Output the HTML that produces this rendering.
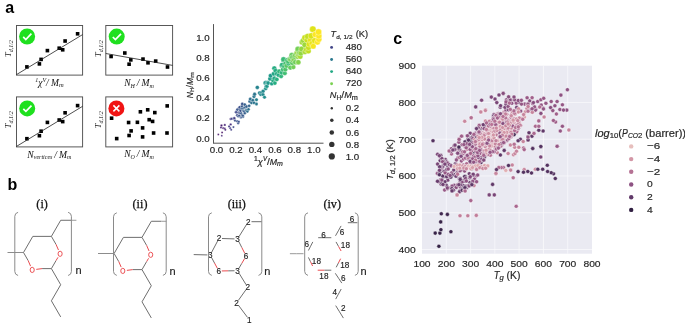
<!DOCTYPE html>
<html><head><meta charset="utf-8"><style>
html,body{margin:0;padding:0;background:#fff;width:685px;height:325px;overflow:hidden}
svg{display:block;will-change:transform}
</style></head><body>
<svg width="685" height="325" viewBox="0 0 685 325">
<text x="5.3" y="13.4" font-family='"Liberation Sans", sans-serif' font-weight="bold" font-size="16">a</text>
<text x="7.6" y="190.3" font-family='"Liberation Sans", sans-serif' font-weight="bold" font-size="16">b</text>
<text x="393.3" y="43.6" font-family='"Liberation Sans", sans-serif' font-weight="bold" font-size="16">c</text>
<rect x="16.5" y="25.5" width="66.1" height="49.6" fill="none" stroke="#505050" stroke-width="0.95"/>
<rect x="105.8" y="25.5" width="66.8" height="49.6" fill="none" stroke="#505050" stroke-width="0.95"/>
<rect x="16.5" y="96.9" width="66.1" height="50.0" fill="none" stroke="#505050" stroke-width="0.95"/>
<rect x="105.8" y="96.9" width="66.8" height="50.0" fill="none" stroke="#505050" stroke-width="0.95"/>
<rect x="25.10" y="65.10" width="3.6" height="3.6" fill="#000"/>
<rect x="37.60" y="62.10" width="3.6" height="3.6" fill="#000"/>
<rect x="39.30" y="57.60" width="3.6" height="3.6" fill="#000"/>
<rect x="45.60" y="48.80" width="3.6" height="3.6" fill="#000"/>
<rect x="57.40" y="46.40" width="3.6" height="3.6" fill="#000"/>
<rect x="60.90" y="48.00" width="3.6" height="3.6" fill="#000"/>
<rect x="63.30" y="39.20" width="3.6" height="3.6" fill="#000"/>
<rect x="75.80" y="32.00" width="3.6" height="3.6" fill="#000"/>
<rect x="109.30" y="54.70" width="3.6" height="3.6" fill="#000"/>
<rect x="123.00" y="51.20" width="3.6" height="3.6" fill="#000"/>
<rect x="129.00" y="58.10" width="3.6" height="3.6" fill="#000"/>
<rect x="127.30" y="62.40" width="3.6" height="3.6" fill="#000"/>
<rect x="141.20" y="57.30" width="3.6" height="3.6" fill="#000"/>
<rect x="146.20" y="61.00" width="3.6" height="3.6" fill="#000"/>
<rect x="153.90" y="59.30" width="3.6" height="3.6" fill="#000"/>
<rect x="165.70" y="65.20" width="3.6" height="3.6" fill="#000"/>
<rect x="25.10" y="136.90" width="3.6" height="3.6" fill="#000"/>
<rect x="37.60" y="133.90" width="3.6" height="3.6" fill="#000"/>
<rect x="39.30" y="129.40" width="3.6" height="3.6" fill="#000"/>
<rect x="45.60" y="120.60" width="3.6" height="3.6" fill="#000"/>
<rect x="57.40" y="118.20" width="3.6" height="3.6" fill="#000"/>
<rect x="60.90" y="119.80" width="3.6" height="3.6" fill="#000"/>
<rect x="63.30" y="111.00" width="3.6" height="3.6" fill="#000"/>
<rect x="75.80" y="103.80" width="3.6" height="3.6" fill="#000"/>
<rect x="109.80" y="116.40" width="3.6" height="3.6" fill="#000"/>
<rect x="114.90" y="136.80" width="3.6" height="3.6" fill="#000"/>
<rect x="126.80" y="120.70" width="3.6" height="3.6" fill="#000"/>
<rect x="129.30" y="129.10" width="3.6" height="3.6" fill="#000"/>
<rect x="127.30" y="133.70" width="3.6" height="3.6" fill="#000"/>
<rect x="135.60" y="120.50" width="3.6" height="3.6" fill="#000"/>
<rect x="138.60" y="110.00" width="3.6" height="3.6" fill="#000"/>
<rect x="140.80" y="126.10" width="3.6" height="3.6" fill="#000"/>
<rect x="140.80" y="135.10" width="3.6" height="3.6" fill="#000"/>
<rect x="145.90" y="108.00" width="3.6" height="3.6" fill="#000"/>
<rect x="147.40" y="117.90" width="3.6" height="3.6" fill="#000"/>
<rect x="150.80" y="119.60" width="3.6" height="3.6" fill="#000"/>
<rect x="153.00" y="110.80" width="3.6" height="3.6" fill="#000"/>
<rect x="151.80" y="131.20" width="3.6" height="3.6" fill="#000"/>
<rect x="165.40" y="104.10" width="3.6" height="3.6" fill="#000"/>
<rect x="165.20" y="131.20" width="3.6" height="3.6" fill="#000"/>
<line x1="16.5" y1="74.6" x2="82.6" y2="34.6" stroke="#222" stroke-width="0.8"/>
<line x1="105.8" y1="53.5" x2="172.6" y2="65.4" stroke="#222" stroke-width="0.8"/>
<line x1="16.5" y1="146.4" x2="82.6" y2="106.3" stroke="#222" stroke-width="0.8"/>
<circle cx="27.1" cy="36.5" r="8" fill="#1fe01f"/>
<path d="M23.20 36.90 L25.80 39.50 L31.40 33.70" fill="none" stroke="#fff" stroke-width="1.7"/>
<circle cx="116.7" cy="36.6" r="8" fill="#1fe01f"/>
<path d="M112.80 37.00 L115.40 39.60 L121.00 33.80" fill="none" stroke="#fff" stroke-width="1.7"/>
<circle cx="27.2" cy="108.4" r="8" fill="#1fe01f"/>
<path d="M23.30 108.80 L25.90 111.40 L31.50 105.60" fill="none" stroke="#fff" stroke-width="1.7"/>
<circle cx="116.4" cy="108.4" r="8" fill="#f01414"/>
<path d="M113.4 105.4 L119.4 111.4 M113.4 111.4 L119.4 105.4" stroke="#fff" stroke-width="1.5"/>
<text transform="translate(11.3,48.6) rotate(-90)" text-anchor="middle" font-family='"Liberation Serif", serif' font-style="italic" font-size="8.5" fill="#111">T<tspan font-size="6.0" dy="1.9">d,1/2</tspan></text>
<text transform="translate(11.3,119.7) rotate(-90)" text-anchor="middle" font-family='"Liberation Serif", serif' font-style="italic" font-size="8.5" fill="#111">T<tspan font-size="6.0" dy="1.9">d,1/2</tspan></text>
<text transform="translate(100.6,48.6) rotate(-90)" text-anchor="middle" font-family='"Liberation Serif", serif' font-style="italic" font-size="8.5" fill="#111">T<tspan font-size="6.0" dy="1.9">d,1/2</tspan></text>
<text transform="translate(100.6,119.7) rotate(-90)" text-anchor="middle" font-family='"Liberation Serif", serif' font-style="italic" font-size="8.5" fill="#111">T<tspan font-size="6.0" dy="1.9">d,1/2</tspan></text>
<text x="49.5" y="85.6" text-anchor="middle" font-family='"Liberation Serif", serif' font-style="italic" font-size="9.5" fill="#111"><tspan font-size="6" dy="-3.5">1</tspan><tspan dy="3.5">χ</tspan><tspan font-size="6" dy="-3.5">V</tspan><tspan dy="3.5">/ M</tspan><tspan font-size="6.5" dy="1.8">m</tspan></text>
<text x="139" y="85.9" text-anchor="middle" font-family='"Liberation Serif", serif' font-style="italic" font-size="9.6" fill="#111">N<tspan font-size="6" dy="1.8">H</tspan><tspan dy="-1.8"> / M</tspan><tspan font-size="6" dy="1.8">m</tspan></text>
<text x="49.3" y="157.5" text-anchor="middle" font-family='"Liberation Serif", serif' font-style="italic" font-size="9.6" fill="#111">N<tspan font-size="6" dy="1.8">vertices</tspan><tspan dy="-1.8"> / M</tspan><tspan font-size="6" dy="1.8">m</tspan></text>
<text x="139" y="157.1" text-anchor="middle" font-family='"Liberation Serif", serif' font-style="italic" font-size="9.6" fill="#111">N<tspan font-size="6" dy="1.8">O</tspan><tspan dy="-1.8"> / M</tspan><tspan font-size="6" dy="1.8">m</tspan></text>
<line x1="213.5" y1="24.1" x2="213.5" y2="143.2" stroke="#555" stroke-width="1"/>
<line x1="213" y1="143.2" x2="323.5" y2="143.2" stroke="#555" stroke-width="1"/>
<text transform="translate(209.70,141.65)" font-family='"Liberation Sans", sans-serif' fill="#262626" stroke="#262626" stroke-width="0.18"><tspan x="-13.52" y="0.00" font-size="9.01" textLength="13.52" lengthAdjust="spacingAndGlyphs">0.0</tspan></text>
<text transform="translate(216.50,153.30)" font-family='"Liberation Sans", sans-serif' fill="#262626" stroke="#262626" stroke-width="0.18"><tspan x="-6.76" y="0.00" font-size="9.01" textLength="13.52" lengthAdjust="spacingAndGlyphs">0.0</tspan></text>
<text transform="translate(209.70,121.49)" font-family='"Liberation Sans", sans-serif' fill="#262626" stroke="#262626" stroke-width="0.18"><tspan x="-13.52" y="0.00" font-size="9.01" textLength="13.52" lengthAdjust="spacingAndGlyphs">0.2</tspan></text>
<text transform="translate(235.96,153.30)" font-family='"Liberation Sans", sans-serif' fill="#262626" stroke="#262626" stroke-width="0.18"><tspan x="-6.76" y="0.00" font-size="9.01" textLength="13.52" lengthAdjust="spacingAndGlyphs">0.2</tspan></text>
<text transform="translate(209.70,101.33)" font-family='"Liberation Sans", sans-serif' fill="#262626" stroke="#262626" stroke-width="0.18"><tspan x="-13.52" y="0.00" font-size="9.01" textLength="13.52" lengthAdjust="spacingAndGlyphs">0.4</tspan></text>
<text transform="translate(255.42,153.30)" font-family='"Liberation Sans", sans-serif' fill="#262626" stroke="#262626" stroke-width="0.18"><tspan x="-6.76" y="0.00" font-size="9.01" textLength="13.52" lengthAdjust="spacingAndGlyphs">0.4</tspan></text>
<text transform="translate(209.70,81.17)" font-family='"Liberation Sans", sans-serif' fill="#262626" stroke="#262626" stroke-width="0.18"><tspan x="-13.52" y="0.00" font-size="9.01" textLength="13.52" lengthAdjust="spacingAndGlyphs">0.6</tspan></text>
<text transform="translate(274.88,153.30)" font-family='"Liberation Sans", sans-serif' fill="#262626" stroke="#262626" stroke-width="0.18"><tspan x="-6.76" y="0.00" font-size="9.01" textLength="13.52" lengthAdjust="spacingAndGlyphs">0.6</tspan></text>
<text transform="translate(209.70,61.01)" font-family='"Liberation Sans", sans-serif' fill="#262626" stroke="#262626" stroke-width="0.18"><tspan x="-13.52" y="0.00" font-size="9.01" textLength="13.52" lengthAdjust="spacingAndGlyphs">0.8</tspan></text>
<text transform="translate(294.34,153.30)" font-family='"Liberation Sans", sans-serif' fill="#262626" stroke="#262626" stroke-width="0.18"><tspan x="-6.76" y="0.00" font-size="9.01" textLength="13.52" lengthAdjust="spacingAndGlyphs">0.8</tspan></text>
<text transform="translate(209.70,40.85)" font-family='"Liberation Sans", sans-serif' fill="#262626" stroke="#262626" stroke-width="0.18"><tspan x="-13.52" y="0.00" font-size="9.01" textLength="13.52" lengthAdjust="spacingAndGlyphs">1.0</tspan></text>
<text transform="translate(313.80,153.30)" font-family='"Liberation Sans", sans-serif' fill="#262626" stroke="#262626" stroke-width="0.18"><tspan x="-6.76" y="0.00" font-size="9.01" textLength="13.52" lengthAdjust="spacingAndGlyphs">1.0</tspan></text>
<text transform="translate(193.10,85.20) rotate(-90)" font-family='"Liberation Sans", sans-serif' fill="#262626" stroke="#262626" stroke-width="0.18"><tspan x="-12.94" y="0.00" font-size="8.69" font-style="italic" textLength="6.13" lengthAdjust="spacingAndGlyphs">N</tspan><tspan x="-6.81" y="1.30" font-size="6.08" textLength="4.32" lengthAdjust="spacingAndGlyphs">H</tspan><tspan x="-2.49" y="0.00" font-size="8.69" textLength="2.76" lengthAdjust="spacingAndGlyphs">/</tspan><tspan x="0.27" y="0.00" font-size="8.69" font-style="italic" textLength="7.08" lengthAdjust="spacingAndGlyphs">M</tspan><tspan x="7.35" y="1.30" font-size="6.08" textLength="5.59" lengthAdjust="spacingAndGlyphs">m</tspan></text>
<text transform="translate(268.50,164.80)" font-family='"Liberation Sans", sans-serif' fill="#262626" stroke="#262626" stroke-width="0.18"><tspan x="-14.44" y="-3.60" font-size="6.31" textLength="3.79" lengthAdjust="spacingAndGlyphs">1</tspan><tspan x="-10.65" y="0.00" font-size="9.01" font-style="italic" textLength="5.03" lengthAdjust="spacingAndGlyphs">χ</tspan><tspan x="-5.62" y="-3.60" font-size="6.31" font-style="italic" textLength="4.07" lengthAdjust="spacingAndGlyphs">V</tspan><tspan x="-1.55" y="0.00" font-size="9.01" textLength="2.86" lengthAdjust="spacingAndGlyphs">/</tspan><tspan x="1.31" y="0.00" font-size="9.01" font-style="italic" textLength="7.33" lengthAdjust="spacingAndGlyphs">M</tspan><tspan x="8.64" y="1.30" font-size="6.31" font-style="italic" textLength="5.80" lengthAdjust="spacingAndGlyphs">m</tspan></text>
<circle cx="218.30" cy="134.60" r="0.98" fill="#481668" stroke="#fff" stroke-width="0.35"/>
<circle cx="221.80" cy="135.70" r="0.96" fill="#482878" stroke="#fff" stroke-width="0.35"/>
<circle cx="222.10" cy="132.50" r="1.03" fill="#471365" stroke="#fff" stroke-width="0.35"/>
<circle cx="221.00" cy="127.60" r="1.13" fill="#482677" stroke="#fff" stroke-width="0.35"/>
<circle cx="221.50" cy="125.50" r="1.18" fill="#481c6e" stroke="#fff" stroke-width="0.35"/>
<circle cx="223.20" cy="128.20" r="1.12" fill="#481d6f" stroke="#fff" stroke-width="0.35"/>
<circle cx="224.80" cy="128.70" r="1.11" fill="#482374" stroke="#fff" stroke-width="0.35"/>
<circle cx="225.30" cy="129.80" r="1.09" fill="#482374" stroke="#fff" stroke-width="0.35"/>
<circle cx="224.80" cy="124.90" r="1.19" fill="#482677" stroke="#fff" stroke-width="0.35"/>
<circle cx="229.10" cy="126.50" r="1.16" fill="#443a83" stroke="#fff" stroke-width="0.35"/>
<circle cx="230.20" cy="128.20" r="1.12" fill="#443b84" stroke="#fff" stroke-width="0.35"/>
<circle cx="231.20" cy="129.80" r="1.09" fill="#423f85" stroke="#fff" stroke-width="0.35"/>
<circle cx="230.70" cy="124.40" r="1.20" fill="#472f7d" stroke="#fff" stroke-width="0.35"/>
<circle cx="230.70" cy="119.00" r="1.32" fill="#46307e" stroke="#fff" stroke-width="0.35"/>
<circle cx="233.40" cy="127.10" r="1.14" fill="#3e4a89" stroke="#fff" stroke-width="0.35"/>
<circle cx="231.80" cy="118.80" r="1.32" fill="#414287" stroke="#fff" stroke-width="0.35"/>
<circle cx="233.90" cy="118.50" r="1.33" fill="#3c508b" stroke="#fff" stroke-width="0.35"/>
<circle cx="235.00" cy="120.60" r="1.28" fill="#3d4e8a" stroke="#fff" stroke-width="0.35"/>
<circle cx="234.30" cy="118.20" r="1.33" fill="#433e85" stroke="#fff" stroke-width="0.35"/>
<circle cx="237.20" cy="121.20" r="1.27" fill="#3a538b" stroke="#fff" stroke-width="0.35"/>
<circle cx="238.20" cy="123.30" r="1.22" fill="#3a538b" stroke="#fff" stroke-width="0.35"/>
<circle cx="238.80" cy="121.70" r="1.26" fill="#3b528b" stroke="#fff" stroke-width="0.35"/>
<circle cx="236.10" cy="112.00" r="1.47" fill="#404588" stroke="#fff" stroke-width="0.35"/>
<circle cx="236.20" cy="112.20" r="1.46" fill="#3e4989" stroke="#fff" stroke-width="0.35"/>
<circle cx="237.20" cy="115.20" r="1.40" fill="#3e4c8a" stroke="#fff" stroke-width="0.35"/>
<circle cx="238.20" cy="116.30" r="1.37" fill="#3a548c" stroke="#fff" stroke-width="0.35"/>
<circle cx="239.20" cy="115.70" r="1.39" fill="#3a538b" stroke="#fff" stroke-width="0.35"/>
<circle cx="237.40" cy="109.50" r="1.52" fill="#39568c" stroke="#fff" stroke-width="0.35"/>
<circle cx="238.60" cy="112.60" r="1.45" fill="#3e4c8a" stroke="#fff" stroke-width="0.35"/>
<circle cx="240.90" cy="117.40" r="1.35" fill="#375a8c" stroke="#fff" stroke-width="0.35"/>
<circle cx="239.80" cy="113.10" r="1.44" fill="#39568c" stroke="#fff" stroke-width="0.35"/>
<circle cx="241.70" cy="116.90" r="1.36" fill="#3a548c" stroke="#fff" stroke-width="0.35"/>
<circle cx="239.20" cy="107.70" r="1.56" fill="#3e4c8a" stroke="#fff" stroke-width="0.35"/>
<circle cx="239.80" cy="109.30" r="1.52" fill="#375a8c" stroke="#fff" stroke-width="0.35"/>
<circle cx="241.10" cy="113.20" r="1.44" fill="#375a8c" stroke="#fff" stroke-width="0.35"/>
<circle cx="240.50" cy="110.80" r="1.49" fill="#3a548c" stroke="#fff" stroke-width="0.35"/>
<circle cx="242.00" cy="115.20" r="1.40" fill="#365c8d" stroke="#fff" stroke-width="0.35"/>
<circle cx="239.80" cy="107.20" r="1.57" fill="#3c508b" stroke="#fff" stroke-width="0.35"/>
<circle cx="243.10" cy="116.80" r="1.36" fill="#355e8d" stroke="#fff" stroke-width="0.35"/>
<circle cx="242.90" cy="115.70" r="1.39" fill="#38598c" stroke="#fff" stroke-width="0.35"/>
<circle cx="241.70" cy="108.30" r="1.54" fill="#375a8c" stroke="#fff" stroke-width="0.35"/>
<circle cx="242.50" cy="108.20" r="1.55" fill="#34608d" stroke="#fff" stroke-width="0.35"/>
<circle cx="242.00" cy="106.10" r="1.59" fill="#38588c" stroke="#fff" stroke-width="0.35"/>
<circle cx="243.50" cy="110.80" r="1.49" fill="#33628d" stroke="#fff" stroke-width="0.35"/>
<circle cx="244.20" cy="111.50" r="1.48" fill="#375a8c" stroke="#fff" stroke-width="0.35"/>
<circle cx="244.80" cy="113.20" r="1.44" fill="#355f8d" stroke="#fff" stroke-width="0.35"/>
<circle cx="242.30" cy="104.00" r="1.64" fill="#3a538b" stroke="#fff" stroke-width="0.35"/>
<circle cx="244.20" cy="107.70" r="1.56" fill="#355f8d" stroke="#fff" stroke-width="0.35"/>
<circle cx="245.20" cy="107.20" r="1.57" fill="#33628d" stroke="#fff" stroke-width="0.35"/>
<circle cx="246.30" cy="109.80" r="1.51" fill="#32648e" stroke="#fff" stroke-width="0.35"/>
<circle cx="244.80" cy="104.60" r="1.62" fill="#34608d" stroke="#fff" stroke-width="0.35"/>
<circle cx="246.60" cy="110.50" r="1.50" fill="#2f6c8e" stroke="#fff" stroke-width="0.35"/>
<circle cx="247.40" cy="111.50" r="1.48" fill="#2e6f8e" stroke="#fff" stroke-width="0.35"/>
<circle cx="246.60" cy="106.50" r="1.58" fill="#355f8d" stroke="#fff" stroke-width="0.35"/>
<circle cx="248.50" cy="109.30" r="1.52" fill="#2d708e" stroke="#fff" stroke-width="0.35"/>
<circle cx="249.10" cy="105.80" r="1.60" fill="#33638d" stroke="#fff" stroke-width="0.35"/>
<circle cx="249.70" cy="101.50" r="1.69" fill="#30698e" stroke="#fff" stroke-width="0.35"/>
<circle cx="250.30" cy="99.10" r="1.74" fill="#2e6e8e" stroke="#fff" stroke-width="0.35"/>
<circle cx="251.50" cy="102.80" r="1.66" fill="#2c718e" stroke="#fff" stroke-width="0.35"/>
<circle cx="252.80" cy="100.30" r="1.71" fill="#2d708e" stroke="#fff" stroke-width="0.35"/>
<circle cx="254.00" cy="102.80" r="1.66" fill="#2c738e" stroke="#fff" stroke-width="0.35"/>
<circle cx="254.00" cy="96.60" r="1.79" fill="#2a778e" stroke="#fff" stroke-width="0.35"/>
<circle cx="256.50" cy="104.00" r="1.64" fill="#297a8e" stroke="#fff" stroke-width="0.35"/>
<circle cx="254.60" cy="94.20" r="1.84" fill="#2b758e" stroke="#fff" stroke-width="0.35"/>
<circle cx="256.50" cy="99.70" r="1.73" fill="#26818e" stroke="#fff" stroke-width="0.35"/>
<circle cx="257.30" cy="87.40" r="1.99" fill="#25838e" stroke="#fff" stroke-width="0.35"/>
<circle cx="259.50" cy="92.90" r="1.87" fill="#25838e" stroke="#fff" stroke-width="0.35"/>
<circle cx="260.80" cy="94.50" r="1.84" fill="#24878e" stroke="#fff" stroke-width="0.35"/>
<circle cx="261.80" cy="92.30" r="1.89" fill="#23898e" stroke="#fff" stroke-width="0.35"/>
<circle cx="263.00" cy="94.50" r="1.84" fill="#238a8d" stroke="#fff" stroke-width="0.35"/>
<circle cx="264.50" cy="97.20" r="1.78" fill="#218e8d" stroke="#fff" stroke-width="0.35"/>
<circle cx="263.20" cy="91.10" r="1.91" fill="#23888e" stroke="#fff" stroke-width="0.35"/>
<circle cx="265.70" cy="88.60" r="1.96" fill="#1f958b" stroke="#fff" stroke-width="0.35"/>
<circle cx="265.10" cy="83.10" r="2.08" fill="#21918c" stroke="#fff" stroke-width="0.35"/>
<circle cx="266.30" cy="86.20" r="2.02" fill="#20938c" stroke="#fff" stroke-width="0.35"/>
<circle cx="265.70" cy="82.50" r="2.09" fill="#20938c" stroke="#fff" stroke-width="0.35"/>
<circle cx="266.90" cy="86.20" r="2.02" fill="#1f988b" stroke="#fff" stroke-width="0.35"/>
<circle cx="267.50" cy="82.50" r="2.09" fill="#1f9e89" stroke="#fff" stroke-width="0.35"/>
<circle cx="268.20" cy="83.10" r="2.08" fill="#1f978b" stroke="#fff" stroke-width="0.35"/>
<circle cx="270.00" cy="78.80" r="2.17" fill="#1e9b8a" stroke="#fff" stroke-width="0.35"/>
<circle cx="271.80" cy="83.70" r="2.07" fill="#1fa187" stroke="#fff" stroke-width="0.35"/>
<circle cx="270.60" cy="75.70" r="2.24" fill="#1f9a8a" stroke="#fff" stroke-width="0.35"/>
<circle cx="273.10" cy="80.60" r="2.13" fill="#24aa83" stroke="#fff" stroke-width="0.35"/>
<circle cx="274.90" cy="83.10" r="2.08" fill="#26ad81" stroke="#fff" stroke-width="0.35"/>
<circle cx="274.30" cy="78.20" r="2.19" fill="#24aa83" stroke="#fff" stroke-width="0.35"/>
<circle cx="273.70" cy="73.80" r="2.28" fill="#21a585" stroke="#fff" stroke-width="0.35"/>
<circle cx="276.80" cy="79.40" r="2.16" fill="#2ab07f" stroke="#fff" stroke-width="0.35"/>
<circle cx="274.30" cy="68.30" r="2.40" fill="#25ac82" stroke="#fff" stroke-width="0.35"/>
<circle cx="275.50" cy="70.80" r="2.34" fill="#25ac82" stroke="#fff" stroke-width="0.35"/>
<circle cx="276.80" cy="73.80" r="2.28" fill="#25ab82" stroke="#fff" stroke-width="0.35"/>
<circle cx="278.60" cy="75.10" r="2.25" fill="#23a983" stroke="#fff" stroke-width="0.35"/>
<circle cx="279.20" cy="71.40" r="2.33" fill="#34b679" stroke="#fff" stroke-width="0.35"/>
<circle cx="281.10" cy="76.30" r="2.23" fill="#31b57b" stroke="#fff" stroke-width="0.35"/>
<circle cx="281.70" cy="72.60" r="2.31" fill="#2fb47c" stroke="#fff" stroke-width="0.35"/>
<circle cx="281.70" cy="65.80" r="2.45" fill="#3dbc74" stroke="#fff" stroke-width="0.35"/>
<circle cx="282.90" cy="69.50" r="2.37" fill="#3dbc74" stroke="#fff" stroke-width="0.35"/>
<circle cx="282.10" cy="64.90" r="2.47" fill="#2db27d" stroke="#fff" stroke-width="0.35"/>
<circle cx="284.80" cy="73.20" r="2.29" fill="#40bd72" stroke="#fff" stroke-width="0.35"/>
<circle cx="284.20" cy="66.50" r="2.44" fill="#3dbc74" stroke="#fff" stroke-width="0.35"/>
<circle cx="285.40" cy="69.50" r="2.37" fill="#4ec36b" stroke="#fff" stroke-width="0.35"/>
<circle cx="283.50" cy="59.70" r="2.58" fill="#2eb37c" stroke="#fff" stroke-width="0.35"/>
<circle cx="283.50" cy="59.40" r="2.59" fill="#3aba76" stroke="#fff" stroke-width="0.35"/>
<circle cx="285.50" cy="63.60" r="2.50" fill="#44bf70" stroke="#fff" stroke-width="0.35"/>
<circle cx="286.60" cy="65.80" r="2.45" fill="#5ac864" stroke="#fff" stroke-width="0.35"/>
<circle cx="287.20" cy="60.30" r="2.57" fill="#42be71" stroke="#fff" stroke-width="0.35"/>
<circle cx="288.50" cy="63.40" r="2.50" fill="#38b977" stroke="#fff" stroke-width="0.35"/>
<circle cx="288.30" cy="61.50" r="2.54" fill="#46c06f" stroke="#fff" stroke-width="0.35"/>
<circle cx="290.30" cy="67.70" r="2.41" fill="#60ca60" stroke="#fff" stroke-width="0.35"/>
<circle cx="289.70" cy="59.10" r="2.59" fill="#63cb5f" stroke="#fff" stroke-width="0.35"/>
<circle cx="290.40" cy="59.40" r="2.59" fill="#73d056" stroke="#fff" stroke-width="0.35"/>
<circle cx="293.40" cy="67.10" r="2.42" fill="#73d056" stroke="#fff" stroke-width="0.35"/>
<circle cx="292.20" cy="62.80" r="2.51" fill="#5ec962" stroke="#fff" stroke-width="0.35"/>
<circle cx="291.50" cy="56.60" r="2.65" fill="#6ece58" stroke="#fff" stroke-width="0.35"/>
<circle cx="292.80" cy="60.30" r="2.57" fill="#6ccd5a" stroke="#fff" stroke-width="0.35"/>
<circle cx="291.80" cy="55.20" r="2.68" fill="#63cb5f" stroke="#fff" stroke-width="0.35"/>
<circle cx="292.50" cy="57.30" r="2.63" fill="#69cd5b" stroke="#fff" stroke-width="0.35"/>
<circle cx="293.90" cy="59.40" r="2.59" fill="#81d34d" stroke="#fff" stroke-width="0.35"/>
<circle cx="295.20" cy="62.20" r="2.53" fill="#6ece58" stroke="#fff" stroke-width="0.35"/>
<circle cx="294.60" cy="56.60" r="2.65" fill="#69cd5b" stroke="#fff" stroke-width="0.35"/>
<circle cx="295.20" cy="55.20" r="2.68" fill="#7ad151" stroke="#fff" stroke-width="0.35"/>
<circle cx="298.00" cy="62.20" r="2.53" fill="#8bd646" stroke="#fff" stroke-width="0.35"/>
<circle cx="298.30" cy="62.20" r="2.53" fill="#81d34d" stroke="#fff" stroke-width="0.35"/>
<circle cx="296.50" cy="53.50" r="2.71" fill="#77d153" stroke="#fff" stroke-width="0.35"/>
<circle cx="297.70" cy="56.60" r="2.65" fill="#8ed645" stroke="#fff" stroke-width="0.35"/>
<circle cx="297.30" cy="52.50" r="2.73" fill="#98d83e" stroke="#fff" stroke-width="0.35"/>
<circle cx="298.70" cy="55.20" r="2.68" fill="#98d83e" stroke="#fff" stroke-width="0.35"/>
<circle cx="297.70" cy="49.80" r="2.79" fill="#93d741" stroke="#fff" stroke-width="0.35"/>
<circle cx="300.20" cy="56.60" r="2.65" fill="#aadc32" stroke="#fff" stroke-width="0.35"/>
<circle cx="298.00" cy="49.00" r="2.81" fill="#73d056" stroke="#fff" stroke-width="0.35"/>
<circle cx="299.50" cy="52.90" r="2.73" fill="#81d34d" stroke="#fff" stroke-width="0.35"/>
<circle cx="300.80" cy="53.20" r="2.72" fill="#93d741" stroke="#fff" stroke-width="0.35"/>
<circle cx="301.50" cy="49.00" r="2.81" fill="#93d741" stroke="#fff" stroke-width="0.35"/>
<circle cx="304.90" cy="51.80" r="2.75" fill="#aadc32" stroke="#fff" stroke-width="0.35"/>
<circle cx="302.20" cy="42.10" r="2.96" fill="#a8db34" stroke="#fff" stroke-width="0.35"/>
<circle cx="303.50" cy="40.70" r="2.99" fill="#9dd93b" stroke="#fff" stroke-width="0.35"/>
<circle cx="306.30" cy="49.70" r="2.79" fill="#bade28" stroke="#fff" stroke-width="0.35"/>
<circle cx="304.90" cy="44.90" r="2.90" fill="#9dd93b" stroke="#fff" stroke-width="0.35"/>
<circle cx="308.40" cy="51.10" r="2.76" fill="#c2df23" stroke="#fff" stroke-width="0.35"/>
<circle cx="304.90" cy="37.90" r="3.05" fill="#cae11f" stroke="#fff" stroke-width="0.35"/>
<circle cx="308.40" cy="47.60" r="2.84" fill="#c8e020" stroke="#fff" stroke-width="0.35"/>
<circle cx="307.00" cy="40.00" r="3.00" fill="#cae11f" stroke="#fff" stroke-width="0.35"/>
<circle cx="309.10" cy="44.20" r="2.91" fill="#dde318" stroke="#fff" stroke-width="0.35"/>
<circle cx="307.70" cy="36.50" r="3.08" fill="#c5e021" stroke="#fff" stroke-width="0.35"/>
<circle cx="310.50" cy="40.00" r="3.00" fill="#e5e419" stroke="#fff" stroke-width="0.35"/>
<circle cx="311.90" cy="43.50" r="2.93" fill="#eae51a" stroke="#fff" stroke-width="0.35"/>
<circle cx="313.20" cy="46.20" r="2.87" fill="#f6e620" stroke="#fff" stroke-width="0.35"/>
<circle cx="311.20" cy="35.90" r="3.09" fill="#dae319" stroke="#fff" stroke-width="0.35"/>
<circle cx="314.60" cy="40.70" r="2.99" fill="#e5e419" stroke="#fff" stroke-width="0.35"/>
<circle cx="312.80" cy="29.20" r="3.23" fill="#dfe318" stroke="#fff" stroke-width="0.35"/>
<circle cx="317.40" cy="42.10" r="2.96" fill="#fde725" stroke="#fff" stroke-width="0.35"/>
<circle cx="315.30" cy="34.50" r="3.12" fill="#fde725" stroke="#fff" stroke-width="0.35"/>
<circle cx="318.80" cy="39.30" r="3.02" fill="#fde725" stroke="#fff" stroke-width="0.35"/>
<circle cx="318.80" cy="35.90" r="3.09" fill="#fde725" stroke="#fff" stroke-width="0.35"/>
<circle cx="318.50" cy="32.00" r="3.17" fill="#fde725" stroke="#fff" stroke-width="0.35"/>
<text transform="translate(330.40,37.00)" font-family='"Liberation Sans", sans-serif' fill="#262626" stroke="#262626" stroke-width="0.18"><tspan x="0.00" y="0.00" font-size="9.54" font-style="italic" textLength="5.50" lengthAdjust="spacingAndGlyphs">T</tspan><tspan x="5.80" y="1.80" font-size="5.98" textLength="5.38" lengthAdjust="spacingAndGlyphs">d,</tspan><tspan x="13.07" y="1.80" font-size="5.98" textLength="9.08" lengthAdjust="spacingAndGlyphs">1/2</tspan><tspan x="22.76" y="0.00" font-size="9.06" textLength="15.00" lengthAdjust="spacingAndGlyphs">&#160;(K)</tspan></text>
<circle cx="331.6" cy="47.4" r="1.45" fill="#414487"/>
<text transform="translate(345.70,50.05)" font-family='"Liberation Sans", sans-serif' fill="#262626" stroke="#262626" stroke-width="0.18"><tspan x="0.00" y="0.00" font-size="9.01" textLength="16.22" lengthAdjust="spacingAndGlyphs">480</tspan></text>
<circle cx="331.6" cy="59.5" r="1.45" fill="#2a788e"/>
<text transform="translate(345.70,62.15)" font-family='"Liberation Sans", sans-serif' fill="#262626" stroke="#262626" stroke-width="0.18"><tspan x="0.00" y="0.00" font-size="9.01" textLength="16.22" lengthAdjust="spacingAndGlyphs">560</tspan></text>
<circle cx="331.6" cy="71.6" r="1.45" fill="#22a884"/>
<text transform="translate(345.70,74.25)" font-family='"Liberation Sans", sans-serif' fill="#262626" stroke="#262626" stroke-width="0.18"><tspan x="0.00" y="0.00" font-size="9.01" textLength="16.22" lengthAdjust="spacingAndGlyphs">640</tspan></text>
<circle cx="331.6" cy="83.7" r="1.45" fill="#7ad151"/>
<text transform="translate(345.70,86.35)" font-family='"Liberation Sans", sans-serif' fill="#262626" stroke="#262626" stroke-width="0.18"><tspan x="0.00" y="0.00" font-size="9.01" textLength="16.22" lengthAdjust="spacingAndGlyphs">720</tspan></text>
<text transform="translate(329.80,98.20)" font-family='"Liberation Sans", sans-serif' fill="#262626" stroke="#262626" stroke-width="0.18"><tspan x="0.00" y="0.00" font-size="9.43" font-style="italic" textLength="6.66" lengthAdjust="spacingAndGlyphs">N</tspan><tspan x="6.66" y="1.30" font-size="6.60" textLength="4.68" lengthAdjust="spacingAndGlyphs">H</tspan><tspan x="11.34" y="0.00" font-size="9.43" textLength="3.00" lengthAdjust="spacingAndGlyphs">/</tspan><tspan x="14.34" y="0.00" font-size="9.43" font-style="italic" textLength="7.68" lengthAdjust="spacingAndGlyphs">M</tspan><tspan x="22.02" y="1.30" font-size="6.60" textLength="6.07" lengthAdjust="spacingAndGlyphs">m</tspan></text>
<circle cx="331.8" cy="108.3" r="1.2" fill="#333"/>
<text transform="translate(345.70,111.45)" font-family='"Liberation Sans", sans-serif' fill="#262626" stroke="#262626" stroke-width="0.18"><tspan x="0.00" y="0.00" font-size="9.01" textLength="13.52" lengthAdjust="spacingAndGlyphs">0.2</tspan></text>
<circle cx="331.8" cy="120.3" r="1.75" fill="#333"/>
<text transform="translate(345.70,123.48)" font-family='"Liberation Sans", sans-serif' fill="#262626" stroke="#262626" stroke-width="0.18"><tspan x="0.00" y="0.00" font-size="9.01" textLength="13.52" lengthAdjust="spacingAndGlyphs">0.4</tspan></text>
<circle cx="331.8" cy="132.4" r="2.25" fill="#333"/>
<text transform="translate(345.70,135.51)" font-family='"Liberation Sans", sans-serif' fill="#262626" stroke="#262626" stroke-width="0.18"><tspan x="0.00" y="0.00" font-size="9.01" textLength="13.52" lengthAdjust="spacingAndGlyphs">0.6</tspan></text>
<circle cx="331.8" cy="144.4" r="2.7" fill="#333"/>
<text transform="translate(345.70,147.54)" font-family='"Liberation Sans", sans-serif' fill="#262626" stroke="#262626" stroke-width="0.18"><tspan x="0.00" y="0.00" font-size="9.01" textLength="13.52" lengthAdjust="spacingAndGlyphs">0.8</tspan></text>
<circle cx="331.8" cy="156.4" r="3.1" fill="#333"/>
<text transform="translate(345.70,159.57)" font-family='"Liberation Sans", sans-serif' fill="#262626" stroke="#262626" stroke-width="0.18"><tspan x="0.00" y="0.00" font-size="9.01" textLength="13.52" lengthAdjust="spacingAndGlyphs">1.0</tspan></text>
<text x="42.1" y="207.6" text-anchor="middle" font-family='"Liberation Serif", serif' font-size="12.2" fill="#111" stroke="#111" stroke-width="0.25">(i)</text>
<line x1="7.50" y1="252.50" x2="23.50" y2="252.50" stroke="#8c8c8c" stroke-width="1.0" stroke-linecap="butt"/>
<line x1="23.50" y1="252.50" x2="32.80" y2="236.39" stroke="#6e6e6e" stroke-width="1.0" stroke-linecap="butt"/>
<line x1="32.80" y1="236.39" x2="51.40" y2="236.39" stroke="#6e6e6e" stroke-width="1.0" stroke-linecap="butt"/>
<line x1="51.40" y1="236.39" x2="60.70" y2="220.28" stroke="#6e6e6e" stroke-width="1.0" stroke-linecap="butt"/>
<line x1="60.70" y1="220.28" x2="71.40" y2="220.28" stroke="#6e6e6e" stroke-width="1.0" stroke-linecap="butt"/>
<line x1="71.40" y1="220.28" x2="76.40" y2="220.28" stroke="#9a9a9a" stroke-width="1.0" stroke-linecap="butt"/>
<line x1="51.40" y1="268.61" x2="60.70" y2="284.72" stroke="#6e6e6e" stroke-width="1.0" stroke-linecap="butt"/>
<line x1="60.70" y1="284.72" x2="51.40" y2="300.82" stroke="#6e6e6e" stroke-width="1.0" stroke-linecap="butt"/>
<line x1="51.40" y1="300.82" x2="60.70" y2="316.93" stroke="#6e6e6e" stroke-width="1.0" stroke-linecap="butt"/>
<line x1="51.40" y1="236.39" x2="56.05" y2="244.45" stroke="#6e6e6e" stroke-width="1.0" stroke-linecap="butt"/>
<line x1="56.05" y1="244.45" x2="58.47" y2="250.04" stroke="#ea4a4e" stroke-width="1.0" stroke-linecap="butt"/>
<line x1="51.40" y1="268.61" x2="56.05" y2="260.55" stroke="#6e6e6e" stroke-width="1.0" stroke-linecap="butt"/>
<line x1="56.05" y1="260.55" x2="57.99" y2="257.32" stroke="#ea4a4e" stroke-width="1.0" stroke-linecap="butt"/>
<line x1="51.40" y1="268.61" x2="42.10" y2="268.61" stroke="#6e6e6e" stroke-width="1.0" stroke-linecap="butt"/>
<line x1="42.10" y1="268.61" x2="36.27" y2="269.37" stroke="#ea4a4e" stroke-width="1.0" stroke-linecap="butt"/>
<line x1="23.50" y1="252.50" x2="28.15" y2="260.55" stroke="#6e6e6e" stroke-width="1.0" stroke-linecap="butt"/>
<line x1="28.15" y1="260.55" x2="30.57" y2="266.15" stroke="#ea4a4e" stroke-width="1.0" stroke-linecap="butt"/>
<ellipse cx="60.10" cy="253.80" rx="2.05" ry="2.6" fill="none" stroke="#ea4a4e" stroke-width="0.95"/>
<ellipse cx="32.20" cy="269.91" rx="2.05" ry="2.6" fill="none" stroke="#ea4a4e" stroke-width="0.95"/>
<path d="M18.1 212.3 Q14.8 213.1 14.8 216.3 L14.8 271.5 Q14.8 274.7 18.1 275.5" fill="none" stroke="#8a8a8a" stroke-width="1"/>
<path d="M68.1 212.3 Q71.4 213.1 71.4 216.3 L71.4 271.5 Q71.4 274.7 68.1 275.5" fill="none" stroke="#8a8a8a" stroke-width="1"/>
<text x="75.6" y="273.9" font-family='"Liberation Sans", sans-serif' font-size="11" fill="#222" stroke="#222" stroke-width="0.15">n</text>
<text x="140" y="207.6" text-anchor="middle" font-family='"Liberation Serif", serif' font-size="12.2" fill="#111" stroke="#111" stroke-width="0.25">(ii)</text>
<line x1="98.00" y1="253.50" x2="114.10" y2="253.50" stroke="#8c8c8c" stroke-width="1.0" stroke-linecap="butt"/>
<line x1="114.10" y1="253.50" x2="123.40" y2="237.39" stroke="#6e6e6e" stroke-width="1.0" stroke-linecap="butt"/>
<line x1="123.40" y1="237.39" x2="142.00" y2="237.39" stroke="#6e6e6e" stroke-width="1.0" stroke-linecap="butt"/>
<line x1="142.00" y1="237.39" x2="151.30" y2="221.28" stroke="#6e6e6e" stroke-width="1.0" stroke-linecap="butt"/>
<line x1="151.30" y1="221.28" x2="161.40" y2="221.28" stroke="#6e6e6e" stroke-width="1.0" stroke-linecap="butt"/>
<line x1="161.40" y1="221.28" x2="166.40" y2="221.28" stroke="#9a9a9a" stroke-width="1.0" stroke-linecap="butt"/>
<line x1="142.00" y1="269.61" x2="151.30" y2="285.72" stroke="#6e6e6e" stroke-width="1.0" stroke-linecap="butt"/>
<line x1="151.30" y1="285.72" x2="142.00" y2="301.82" stroke="#6e6e6e" stroke-width="1.0" stroke-linecap="butt"/>
<line x1="142.00" y1="301.82" x2="151.30" y2="317.93" stroke="#6e6e6e" stroke-width="1.0" stroke-linecap="butt"/>
<line x1="142.00" y1="237.39" x2="146.65" y2="245.45" stroke="#6e6e6e" stroke-width="1.0" stroke-linecap="butt"/>
<line x1="146.65" y1="245.45" x2="149.07" y2="251.04" stroke="#ea4a4e" stroke-width="1.0" stroke-linecap="butt"/>
<line x1="142.00" y1="269.61" x2="146.65" y2="261.55" stroke="#6e6e6e" stroke-width="1.0" stroke-linecap="butt"/>
<line x1="146.65" y1="261.55" x2="148.59" y2="258.32" stroke="#ea4a4e" stroke-width="1.0" stroke-linecap="butt"/>
<line x1="142.00" y1="269.61" x2="132.70" y2="269.61" stroke="#6e6e6e" stroke-width="1.0" stroke-linecap="butt"/>
<line x1="132.70" y1="269.61" x2="126.87" y2="270.37" stroke="#ea4a4e" stroke-width="1.0" stroke-linecap="butt"/>
<line x1="114.10" y1="253.50" x2="118.75" y2="261.55" stroke="#6e6e6e" stroke-width="1.0" stroke-linecap="butt"/>
<line x1="118.75" y1="261.55" x2="121.17" y2="267.15" stroke="#ea4a4e" stroke-width="1.0" stroke-linecap="butt"/>
<ellipse cx="150.70" cy="254.80" rx="2.05" ry="2.6" fill="none" stroke="#ea4a4e" stroke-width="0.95"/>
<ellipse cx="122.80" cy="270.91" rx="2.05" ry="2.6" fill="none" stroke="#ea4a4e" stroke-width="0.95"/>
<path d="M116.8 212.8 Q113.5 213.6 113.5 216.8 L113.5 271.4 Q113.5 274.6 116.8 275.4" fill="none" stroke="#8a8a8a" stroke-width="1"/>
<path d="M162.9 212.8 Q166.2 213.6 166.2 216.8 L166.2 271.4 Q166.2 274.6 162.9 275.4" fill="none" stroke="#8a8a8a" stroke-width="1"/>
<text x="169.6" y="274.8" font-family='"Liberation Sans", sans-serif' font-size="11" fill="#222" stroke="#222" stroke-width="0.15">n</text>
<text x="236.8" y="207.6" text-anchor="middle" font-family='"Liberation Serif", serif' font-size="12.2" fill="#111" stroke="#111" stroke-width="0.25">(iii)</text>
<line x1="211.61" y1="252.35" x2="217.59" y2="241.05" stroke="#6e6e6e" stroke-width="1.0" stroke-linecap="butt"/>
<line x1="222.00" y1="238.50" x2="234.50" y2="238.90" stroke="#6e6e6e" stroke-width="1.0" stroke-linecap="butt"/>
<line x1="239.09" y1="236.46" x2="246.71" y2="224.24" stroke="#6e6e6e" stroke-width="1.0" stroke-linecap="butt"/>
<line x1="239.07" y1="273.26" x2="246.13" y2="284.74" stroke="#6e6e6e" stroke-width="1.0" stroke-linecap="butt"/>
<line x1="245.95" y1="289.74" x2="238.35" y2="300.36" stroke="#6e6e6e" stroke-width="1.0" stroke-linecap="butt"/>
<line x1="238.40" y1="305.20" x2="247.50" y2="317.40" stroke="#6e6e6e" stroke-width="1.0" stroke-linecap="butt"/>
<line x1="238.85" y1="241.68" x2="241.80" y2="247.50" stroke="#6e6e6e" stroke-width="1.0" stroke-linecap="butt"/>
<line x1="241.80" y1="247.50" x2="244.75" y2="253.32" stroke="#ea4a4e" stroke-width="1.0" stroke-linecap="butt"/>
<line x1="239.01" y1="268.11" x2="241.80" y2="263.35" stroke="#6e6e6e" stroke-width="1.0" stroke-linecap="butt"/>
<line x1="241.80" y1="263.35" x2="244.59" y2="258.59" stroke="#ea4a4e" stroke-width="1.0" stroke-linecap="butt"/>
<line x1="234.50" y1="270.75" x2="228.15" y2="270.85" stroke="#6e6e6e" stroke-width="1.0" stroke-linecap="butt"/>
<line x1="228.15" y1="270.85" x2="221.80" y2="270.95" stroke="#ea4a4e" stroke-width="1.0" stroke-linecap="butt"/>
<line x1="211.62" y1="257.64" x2="214.50" y2="263.00" stroke="#6e6e6e" stroke-width="1.0" stroke-linecap="butt"/>
<line x1="214.50" y1="263.00" x2="217.38" y2="268.36" stroke="#ea4a4e" stroke-width="1.0" stroke-linecap="butt"/>
<line x1="193.70" y1="254.60" x2="207.40" y2="254.93" stroke="#6e6e6e" stroke-width="1.0" stroke-linecap="butt"/>
<line x1="251.50" y1="221.70" x2="261.80" y2="221.70" stroke="#6e6e6e" stroke-width="1.0" stroke-linecap="butt"/>
<text x="210.20" y="257.90" text-anchor="middle" font-family='"Liberation Sans", sans-serif' font-size="8.2" fill="#222" stroke="#222" stroke-width="0.15">3</text>
<text x="219.00" y="241.30" text-anchor="middle" font-family='"Liberation Sans", sans-serif' font-size="8.2" fill="#222" stroke="#222" stroke-width="0.15">2</text>
<text x="237.50" y="241.90" text-anchor="middle" font-family='"Liberation Sans", sans-serif' font-size="8.2" fill="#222" stroke="#222" stroke-width="0.15">3</text>
<text x="246.10" y="258.90" text-anchor="middle" font-family='"Liberation Sans", sans-serif' font-size="8.2" fill="#222" stroke="#222" stroke-width="0.15">6</text>
<text x="237.50" y="273.60" text-anchor="middle" font-family='"Liberation Sans", sans-serif' font-size="8.2" fill="#222" stroke="#222" stroke-width="0.15">3</text>
<text x="218.80" y="273.90" text-anchor="middle" font-family='"Liberation Sans", sans-serif' font-size="8.2" fill="#222" stroke="#222" stroke-width="0.15">6</text>
<text x="248.30" y="224.60" text-anchor="middle" font-family='"Liberation Sans", sans-serif' font-size="8.2" fill="#222" stroke="#222" stroke-width="0.15">2</text>
<text x="247.70" y="290.20" text-anchor="middle" font-family='"Liberation Sans", sans-serif' font-size="8.2" fill="#222" stroke="#222" stroke-width="0.15">2</text>
<text x="236.60" y="305.70" text-anchor="middle" font-family='"Liberation Sans", sans-serif' font-size="8.2" fill="#222" stroke="#222" stroke-width="0.15">2</text>
<text x="249.30" y="322.70" text-anchor="middle" font-family='"Liberation Sans", sans-serif' font-size="8.2" fill="#222" stroke="#222" stroke-width="0.15">1</text>
<path d="M211.8 212.8 Q208.5 213.6 208.5 216.8 L208.5 271.4 Q208.5 274.6 211.8 275.4" fill="none" stroke="#8a8a8a" stroke-width="1"/>
<path d="M258.5 212.8 Q261.8 213.6 261.8 216.8 L261.8 271.4 Q261.8 274.6 258.5 275.4" fill="none" stroke="#8a8a8a" stroke-width="1"/>
<text x="264.2" y="274.9" font-family='"Liberation Sans", sans-serif' font-size="11" fill="#222" stroke="#222" stroke-width="0.15">n</text>
<text x="332.2" y="207.6" text-anchor="middle" font-family='"Liberation Serif", serif' font-size="12.2" fill="#111" stroke="#111" stroke-width="0.25">(iv)</text>
<line x1="347.80" y1="222.70" x2="352.60" y2="222.70" stroke="#6e6e6e" stroke-width="1.0" stroke-linecap="butt"/>
<line x1="352.60" y1="222.70" x2="357.40" y2="222.70" stroke="#6e6e6e" stroke-width="1.0" stroke-linecap="butt"/>
<line x1="335.50" y1="235.80" x2="338.30" y2="230.85" stroke="#6e6e6e" stroke-width="1.0" stroke-linecap="butt"/>
<line x1="338.30" y1="230.85" x2="341.10" y2="225.90" stroke="#6e6e6e" stroke-width="1.0" stroke-linecap="butt"/>
<line x1="318.20" y1="237.70" x2="324.75" y2="237.70" stroke="#6e6e6e" stroke-width="1.0" stroke-linecap="butt"/>
<line x1="324.75" y1="237.70" x2="331.30" y2="237.70" stroke="#6e6e6e" stroke-width="1.0" stroke-linecap="butt"/>
<line x1="308.40" y1="250.50" x2="310.60" y2="246.20" stroke="#6e6e6e" stroke-width="1.0" stroke-linecap="butt"/>
<line x1="310.60" y1="246.20" x2="312.80" y2="241.90" stroke="#6e6e6e" stroke-width="1.0" stroke-linecap="butt"/>
<line x1="289.90" y1="253.70" x2="296.70" y2="253.70" stroke="#999999" stroke-width="1.0" stroke-linecap="butt"/>
<line x1="296.70" y1="253.70" x2="303.50" y2="253.70" stroke="#999999" stroke-width="1.0" stroke-linecap="butt"/>
<line x1="336.00" y1="241.90" x2="338.55" y2="246.45" stroke="#6e6e6e" stroke-width="1.0" stroke-linecap="butt"/>
<line x1="338.55" y1="246.45" x2="341.10" y2="251.00" stroke="#ea4a4e" stroke-width="1.0" stroke-linecap="butt"/>
<line x1="308.40" y1="257.40" x2="310.50" y2="261.70" stroke="#6e6e6e" stroke-width="1.0" stroke-linecap="butt"/>
<line x1="310.50" y1="261.70" x2="312.60" y2="266.00" stroke="#ea4a4e" stroke-width="1.0" stroke-linecap="butt"/>
<line x1="336.20" y1="267.30" x2="338.40" y2="263.00" stroke="#6e6e6e" stroke-width="1.0" stroke-linecap="butt"/>
<line x1="338.40" y1="263.00" x2="340.60" y2="258.70" stroke="#ea4a4e" stroke-width="1.0" stroke-linecap="butt"/>
<line x1="317.70" y1="270.20" x2="324.50" y2="270.20" stroke="#ea4a4e" stroke-width="1.0" stroke-linecap="butt"/>
<line x1="324.50" y1="270.20" x2="331.30" y2="270.20" stroke="#6e6e6e" stroke-width="1.0" stroke-linecap="butt"/>
<line x1="335.30" y1="273.30" x2="338.55" y2="278.20" stroke="#6e6e6e" stroke-width="1.0" stroke-linecap="butt"/>
<line x1="338.55" y1="278.20" x2="341.80" y2="283.10" stroke="#6e6e6e" stroke-width="1.0" stroke-linecap="butt"/>
<line x1="335.70" y1="299.10" x2="338.45" y2="294.05" stroke="#6e6e6e" stroke-width="1.0" stroke-linecap="butt"/>
<line x1="338.45" y1="294.05" x2="341.20" y2="289.00" stroke="#6e6e6e" stroke-width="1.0" stroke-linecap="butt"/>
<line x1="335.70" y1="305.60" x2="339.55" y2="311.85" stroke="#6e6e6e" stroke-width="1.0" stroke-linecap="butt"/>
<line x1="339.55" y1="311.85" x2="343.40" y2="318.10" stroke="#6e6e6e" stroke-width="1.0" stroke-linecap="butt"/>
<text x="352.00" y="222.20" text-anchor="middle" font-family='"Liberation Sans", sans-serif' font-size="8.2" fill="#222" stroke="#222" stroke-width="0.15">6</text>
<text x="342.10" y="235.00" text-anchor="middle" font-family='"Liberation Sans", sans-serif' font-size="8.2" fill="#222" stroke="#222" stroke-width="0.15">6</text>
<text x="323.60" y="237.90" text-anchor="middle" font-family='"Liberation Sans", sans-serif' font-size="8.2" fill="#222" stroke="#222" stroke-width="0.15">6</text>
<text x="306.70" y="247.30" text-anchor="middle" font-family='"Liberation Sans", sans-serif' font-size="8.2" fill="#222" stroke="#222" stroke-width="0.15">6</text>
<text x="345.40" y="247.80" text-anchor="middle" font-family='"Liberation Sans", sans-serif' font-size="8.2" fill="#222" stroke="#222" stroke-width="0.15">18</text>
<text x="316.40" y="264.00" text-anchor="middle" font-family='"Liberation Sans", sans-serif' font-size="8.2" fill="#222" stroke="#222" stroke-width="0.15">18</text>
<text x="344.70" y="267.50" text-anchor="middle" font-family='"Liberation Sans", sans-serif' font-size="8.2" fill="#222" stroke="#222" stroke-width="0.15">18</text>
<text x="323.90" y="278.50" text-anchor="middle" font-family='"Liberation Sans", sans-serif' font-size="8.2" fill="#222" stroke="#222" stroke-width="0.15">18</text>
<text x="343.40" y="280.80" text-anchor="middle" font-family='"Liberation Sans", sans-serif' font-size="8.2" fill="#222" stroke="#222" stroke-width="0.15">6</text>
<text x="334.80" y="294.70" text-anchor="middle" font-family='"Liberation Sans", sans-serif' font-size="8.2" fill="#222" stroke="#222" stroke-width="0.15">4</text>
<text x="343.40" y="311.30" text-anchor="middle" font-family='"Liberation Sans", sans-serif' font-size="8.2" fill="#222" stroke="#222" stroke-width="0.15">2</text>
<path d="M308.0 212.8 Q304.7 213.6 304.7 216.8 L304.7 271.4 Q304.7 274.6 308.0 275.4" fill="none" stroke="#8a8a8a" stroke-width="1"/>
<path d="M354.9 212.8 Q358.2 213.6 358.2 216.8 L358.2 271.4 Q358.2 274.6 354.9 275.4" fill="none" stroke="#8a8a8a" stroke-width="1"/>
<text x="360.5" y="274.9" font-family='"Liberation Sans", sans-serif' font-size="11" fill="#222" stroke="#222" stroke-width="0.15">n</text>
<rect x="422.0" y="65.7" width="170.0" height="188.0" fill="#eaeaf2"/>
<clipPath id="cp"><rect x="422.0" y="65.7" width="170.0" height="188.0"/></clipPath>
<line x1="446.29" y1="65.7" x2="446.29" y2="253.7" stroke="#fafafc" stroke-width="0.75"/>
<line x1="470.57" y1="65.7" x2="470.57" y2="253.7" stroke="#fafafc" stroke-width="0.75"/>
<line x1="494.86" y1="65.7" x2="494.86" y2="253.7" stroke="#fafafc" stroke-width="0.75"/>
<line x1="519.14" y1="65.7" x2="519.14" y2="253.7" stroke="#fafafc" stroke-width="0.75"/>
<line x1="543.43" y1="65.7" x2="543.43" y2="253.7" stroke="#fafafc" stroke-width="0.75"/>
<line x1="567.72" y1="65.7" x2="567.72" y2="253.7" stroke="#fafafc" stroke-width="0.75"/>
<line x1="422.0" y1="249.50" x2="592.0" y2="249.50" stroke="#fafafc" stroke-width="0.75"/>
<line x1="422.0" y1="212.74" x2="592.0" y2="212.74" stroke="#fafafc" stroke-width="0.75"/>
<line x1="422.0" y1="175.98" x2="592.0" y2="175.98" stroke="#fafafc" stroke-width="0.75"/>
<line x1="422.0" y1="139.22" x2="592.0" y2="139.22" stroke="#fafafc" stroke-width="0.75"/>
<line x1="422.0" y1="102.46" x2="592.0" y2="102.46" stroke="#fafafc" stroke-width="0.75"/>
<text transform="translate(422.00,267.10)" font-family='"Liberation Sans", sans-serif' fill="#262626" stroke="#262626" stroke-width="0.18"><tspan x="-8.59" y="0.00" font-size="9.54" textLength="17.18" lengthAdjust="spacingAndGlyphs">100</tspan></text>
<text transform="translate(446.29,267.10)" font-family='"Liberation Sans", sans-serif' fill="#262626" stroke="#262626" stroke-width="0.18"><tspan x="-8.59" y="0.00" font-size="9.54" textLength="17.18" lengthAdjust="spacingAndGlyphs">200</tspan></text>
<text transform="translate(470.57,267.10)" font-family='"Liberation Sans", sans-serif' fill="#262626" stroke="#262626" stroke-width="0.18"><tspan x="-8.59" y="0.00" font-size="9.54" textLength="17.18" lengthAdjust="spacingAndGlyphs">300</tspan></text>
<text transform="translate(494.86,267.10)" font-family='"Liberation Sans", sans-serif' fill="#262626" stroke="#262626" stroke-width="0.18"><tspan x="-8.59" y="0.00" font-size="9.54" textLength="17.18" lengthAdjust="spacingAndGlyphs">400</tspan></text>
<text transform="translate(519.14,267.10)" font-family='"Liberation Sans", sans-serif' fill="#262626" stroke="#262626" stroke-width="0.18"><tspan x="-8.59" y="0.00" font-size="9.54" textLength="17.18" lengthAdjust="spacingAndGlyphs">500</tspan></text>
<text transform="translate(543.43,267.10)" font-family='"Liberation Sans", sans-serif' fill="#262626" stroke="#262626" stroke-width="0.18"><tspan x="-8.59" y="0.00" font-size="9.54" textLength="17.18" lengthAdjust="spacingAndGlyphs">600</tspan></text>
<text transform="translate(567.72,267.10)" font-family='"Liberation Sans", sans-serif' fill="#262626" stroke="#262626" stroke-width="0.18"><tspan x="-8.59" y="0.00" font-size="9.54" textLength="17.18" lengthAdjust="spacingAndGlyphs">700</tspan></text>
<text transform="translate(592.00,267.10)" font-family='"Liberation Sans", sans-serif' fill="#262626" stroke="#262626" stroke-width="0.18"><tspan x="-8.59" y="0.00" font-size="9.54" textLength="17.18" lengthAdjust="spacingAndGlyphs">800</tspan></text>
<text transform="translate(415.60,252.80)" font-family='"Liberation Sans", sans-serif' fill="#262626" stroke="#262626" stroke-width="0.18"><tspan x="-17.18" y="0.00" font-size="9.54" textLength="17.18" lengthAdjust="spacingAndGlyphs">400</tspan></text>
<text transform="translate(415.60,216.04)" font-family='"Liberation Sans", sans-serif' fill="#262626" stroke="#262626" stroke-width="0.18"><tspan x="-17.18" y="0.00" font-size="9.54" textLength="17.18" lengthAdjust="spacingAndGlyphs">500</tspan></text>
<text transform="translate(415.60,179.28)" font-family='"Liberation Sans", sans-serif' fill="#262626" stroke="#262626" stroke-width="0.18"><tspan x="-17.18" y="0.00" font-size="9.54" textLength="17.18" lengthAdjust="spacingAndGlyphs">600</tspan></text>
<text transform="translate(415.60,142.52)" font-family='"Liberation Sans", sans-serif' fill="#262626" stroke="#262626" stroke-width="0.18"><tspan x="-17.18" y="0.00" font-size="9.54" textLength="17.18" lengthAdjust="spacingAndGlyphs">700</tspan></text>
<text transform="translate(415.60,105.76)" font-family='"Liberation Sans", sans-serif' fill="#262626" stroke="#262626" stroke-width="0.18"><tspan x="-17.18" y="0.00" font-size="9.54" textLength="17.18" lengthAdjust="spacingAndGlyphs">800</tspan></text>
<text transform="translate(415.60,69.00)" font-family='"Liberation Sans", sans-serif' fill="#262626" stroke="#262626" stroke-width="0.18"><tspan x="-17.18" y="0.00" font-size="9.54" textLength="17.18" lengthAdjust="spacingAndGlyphs">900</tspan></text>
<text transform="translate(393.40,159.50) rotate(-90)" font-family='"Liberation Sans", sans-serif' fill="#262626" stroke="#262626" stroke-width="0.18"><tspan x="-20.37" y="0.00" font-size="9.86" font-style="italic" textLength="5.68" lengthAdjust="spacingAndGlyphs">T</tspan><tspan x="-14.69" y="1.50" font-size="6.90" font-style="italic" textLength="4.13" lengthAdjust="spacingAndGlyphs">d</tspan><tspan x="-10.56" y="1.50" font-size="6.90" textLength="14.62" lengthAdjust="spacingAndGlyphs">,&#160;1/2</tspan><tspan x="4.06" y="0.00" font-size="9.86" textLength="16.31" lengthAdjust="spacingAndGlyphs">&#160;(K)</tspan></text>
<text transform="translate(507.00,278.80)" font-family='"Liberation Sans", sans-serif' fill="#262626" stroke="#262626" stroke-width="0.18"><tspan x="-13.34" y="0.00" font-size="10.07" font-style="italic" textLength="5.80" lengthAdjust="spacingAndGlyphs">T</tspan><tspan x="-7.54" y="1.50" font-size="7.05" font-style="italic" textLength="4.22" lengthAdjust="spacingAndGlyphs">g</tspan><tspan x="-3.32" y="0.00" font-size="10.07" textLength="16.66" lengthAdjust="spacingAndGlyphs">&#160;(K)</tspan></text>
<text transform="translate(595.00,136.80)" font-family='"Liberation Sans", sans-serif' fill="#262626" stroke="#262626" stroke-width="0.18"><tspan x="0.00" y="0.00" font-size="10.23" font-style="italic" textLength="14.71" lengthAdjust="spacingAndGlyphs">log</tspan><tspan x="14.71" y="1.50" font-size="7.16" textLength="8.60" lengthAdjust="spacingAndGlyphs">10</tspan><tspan x="23.31" y="0.00" font-size="10.23" textLength="3.77" lengthAdjust="spacingAndGlyphs">(</tspan><tspan x="27.07" y="0.00" font-size="10.23" font-style="italic" textLength="5.82" lengthAdjust="spacingAndGlyphs">P</tspan><tspan x="32.89" y="1.50" font-size="7.16" font-style="italic" textLength="10.03" lengthAdjust="spacingAndGlyphs">CO</tspan><tspan x="42.92" y="1.50" font-size="7.16" textLength="4.30" lengthAdjust="spacingAndGlyphs">2</tspan><tspan x="47.22" y="0.00" font-size="10.23" textLength="43.86" lengthAdjust="spacingAndGlyphs">&#160;(barrer))</tspan></text>
<circle cx="631.2" cy="146.4" r="2.2" fill="#e7bfbd"/>
<text transform="translate(647.00,149.10)" font-family='"Liberation Sans", sans-serif' fill="#262626" stroke="#262626" stroke-width="0.18"><tspan x="0.00" y="0.00" font-size="9.54" textLength="13.27" lengthAdjust="spacingAndGlyphs">−6</tspan></text>
<circle cx="631.2" cy="159.1" r="2.2" fill="#d397a6"/>
<text transform="translate(647.00,161.80)" font-family='"Liberation Sans", sans-serif' fill="#262626" stroke="#262626" stroke-width="0.18"><tspan x="0.00" y="0.00" font-size="9.54" textLength="13.27" lengthAdjust="spacingAndGlyphs">−4</tspan></text>
<circle cx="631.2" cy="171.8" r="2.2" fill="#b57294"/>
<text transform="translate(647.00,174.50)" font-family='"Liberation Sans", sans-serif' fill="#262626" stroke="#262626" stroke-width="0.18"><tspan x="0.00" y="0.00" font-size="9.54" textLength="13.27" lengthAdjust="spacingAndGlyphs">−2</tspan></text>
<circle cx="631.2" cy="184.5" r="2.2" fill="#8e5383"/>
<text transform="translate(647.00,187.20)" font-family='"Liberation Sans", sans-serif' fill="#262626" stroke="#262626" stroke-width="0.18"><tspan x="0.00" y="0.00" font-size="9.54" textLength="5.73" lengthAdjust="spacingAndGlyphs">0</tspan></text>
<circle cx="631.2" cy="197.2" r="2.2" fill="#613969"/>
<text transform="translate(647.00,199.90)" font-family='"Liberation Sans", sans-serif' fill="#262626" stroke="#262626" stroke-width="0.18"><tspan x="0.00" y="0.00" font-size="9.54" textLength="5.73" lengthAdjust="spacingAndGlyphs">2</tspan></text>
<circle cx="631.2" cy="209.9" r="2.2" fill="#312042"/>
<text transform="translate(647.00,212.60)" font-family='"Liberation Sans", sans-serif' fill="#262626" stroke="#262626" stroke-width="0.18"><tspan x="0.00" y="0.00" font-size="9.54" textLength="5.73" lengthAdjust="spacingAndGlyphs">4</tspan></text>
<g clip-path="url(#cp)">
<circle cx="461.4" cy="161.0" r="2.05" fill="#985987" stroke="#fff" stroke-width="0.45"/>
<circle cx="454.6" cy="147.7" r="2.05" fill="#6c3f70" stroke="#fff" stroke-width="0.45"/>
<circle cx="445.4" cy="159.6" r="2.05" fill="#784577" stroke="#fff" stroke-width="0.45"/>
<circle cx="476.4" cy="137.1" r="2.05" fill="#bb7797" stroke="#fff" stroke-width="0.45"/>
<circle cx="493.3" cy="135.2" r="2.05" fill="#d397a6" stroke="#fff" stroke-width="0.45"/>
<circle cx="535.5" cy="126.3" r="2.05" fill="#a9678f" stroke="#fff" stroke-width="0.45"/>
<circle cx="491.4" cy="120.8" r="2.05" fill="#b97596" stroke="#fff" stroke-width="0.45"/>
<circle cx="482.0" cy="132.2" r="2.05" fill="#c27f9a" stroke="#fff" stroke-width="0.45"/>
<circle cx="493.2" cy="142.3" r="2.05" fill="#d79ea9" stroke="#fff" stroke-width="0.45"/>
<circle cx="490.7" cy="127.8" r="2.05" fill="#bc7897" stroke="#fff" stroke-width="0.45"/>
<circle cx="508.9" cy="135.3" r="2.05" fill="#a8668e" stroke="#fff" stroke-width="0.45"/>
<circle cx="500.3" cy="107.3" r="2.05" fill="#794678" stroke="#fff" stroke-width="0.45"/>
<circle cx="502.7" cy="140.4" r="2.05" fill="#8d5282" stroke="#fff" stroke-width="0.45"/>
<circle cx="505.0" cy="123.6" r="2.05" fill="#d396a5" stroke="#fff" stroke-width="0.45"/>
<circle cx="465.4" cy="176.6" r="2.05" fill="#5f3868" stroke="#fff" stroke-width="0.45"/>
<circle cx="484.7" cy="133.1" r="2.05" fill="#c2809b" stroke="#fff" stroke-width="0.45"/>
<circle cx="490.4" cy="140.4" r="2.05" fill="#daa2ac" stroke="#fff" stroke-width="0.45"/>
<circle cx="497.3" cy="152.7" r="2.05" fill="#c6859d" stroke="#fff" stroke-width="0.45"/>
<circle cx="494.3" cy="194.9" r="2.05" fill="#794678" stroke="#fff" stroke-width="0.45"/>
<circle cx="497.5" cy="114.4" r="2.05" fill="#a7658e" stroke="#fff" stroke-width="0.45"/>
<circle cx="473.5" cy="145.4" r="2.05" fill="#ab6990" stroke="#fff" stroke-width="0.45"/>
<circle cx="469.8" cy="143.2" r="2.05" fill="#a8668e" stroke="#fff" stroke-width="0.45"/>
<circle cx="440.4" cy="157.1" r="2.05" fill="#794678" stroke="#fff" stroke-width="0.45"/>
<circle cx="500.4" cy="130.7" r="2.05" fill="#c8879e" stroke="#fff" stroke-width="0.45"/>
<circle cx="464.6" cy="176.6" r="2.05" fill="#563362" stroke="#fff" stroke-width="0.45"/>
<circle cx="500.4" cy="155.0" r="2.05" fill="#613969" stroke="#fff" stroke-width="0.45"/>
<circle cx="456.3" cy="167.7" r="2.05" fill="#8d5282" stroke="#fff" stroke-width="0.45"/>
<circle cx="485.9" cy="124.4" r="2.05" fill="#834c7d" stroke="#fff" stroke-width="0.45"/>
<circle cx="480.1" cy="129.2" r="2.05" fill="#9d5d89" stroke="#fff" stroke-width="0.45"/>
<circle cx="496.9" cy="131.3" r="2.05" fill="#c6859d" stroke="#fff" stroke-width="0.45"/>
<circle cx="476.3" cy="153.9" r="2.05" fill="#894f80" stroke="#fff" stroke-width="0.45"/>
<circle cx="496.5" cy="135.2" r="2.05" fill="#c6859d" stroke="#fff" stroke-width="0.45"/>
<circle cx="492.2" cy="135.7" r="2.05" fill="#ce8fa2" stroke="#fff" stroke-width="0.45"/>
<circle cx="537.7" cy="101.5" r="2.05" fill="#945785" stroke="#fff" stroke-width="0.45"/>
<circle cx="506.5" cy="99.8" r="2.05" fill="#864e7e" stroke="#fff" stroke-width="0.45"/>
<circle cx="510.1" cy="99.2" r="2.05" fill="#864e7e" stroke="#fff" stroke-width="0.45"/>
<circle cx="554.9" cy="105.8" r="2.05" fill="#8e5383" stroke="#fff" stroke-width="0.45"/>
<circle cx="459.7" cy="149.5" r="2.05" fill="#794678" stroke="#fff" stroke-width="0.45"/>
<circle cx="507.7" cy="136.9" r="2.05" fill="#b57294" stroke="#fff" stroke-width="0.45"/>
<circle cx="511.5" cy="115.3" r="2.05" fill="#c07d99" stroke="#fff" stroke-width="0.45"/>
<circle cx="444.6" cy="190.0" r="2.05" fill="#965886" stroke="#fff" stroke-width="0.45"/>
<circle cx="504.9" cy="113.2" r="2.05" fill="#c3819c" stroke="#fff" stroke-width="0.45"/>
<circle cx="499.3" cy="118.2" r="2.05" fill="#bb7797" stroke="#fff" stroke-width="0.45"/>
<circle cx="482.3" cy="141.2" r="2.05" fill="#c07d99" stroke="#fff" stroke-width="0.45"/>
<circle cx="453.8" cy="174.4" r="2.05" fill="#653b6c" stroke="#fff" stroke-width="0.45"/>
<circle cx="480.4" cy="133.6" r="2.05" fill="#bd7a98" stroke="#fff" stroke-width="0.45"/>
<circle cx="499.0" cy="127.8" r="2.05" fill="#cc8da1" stroke="#fff" stroke-width="0.45"/>
<circle cx="535.7" cy="109.4" r="2.05" fill="#864e7e" stroke="#fff" stroke-width="0.45"/>
<circle cx="477.5" cy="135.5" r="2.05" fill="#a5648d" stroke="#fff" stroke-width="0.45"/>
<circle cx="474.0" cy="181.4" r="2.05" fill="#c6859d" stroke="#fff" stroke-width="0.45"/>
<circle cx="511.8" cy="123.7" r="2.05" fill="#bb7797" stroke="#fff" stroke-width="0.45"/>
<circle cx="493.8" cy="131.1" r="2.05" fill="#bf7c99" stroke="#fff" stroke-width="0.45"/>
<circle cx="488.2" cy="151.1" r="2.05" fill="#c6859d" stroke="#fff" stroke-width="0.45"/>
<circle cx="493.2" cy="132.4" r="2.05" fill="#cd8ea1" stroke="#fff" stroke-width="0.45"/>
<circle cx="490.1" cy="148.6" r="2.05" fill="#d8a0aa" stroke="#fff" stroke-width="0.45"/>
<circle cx="490.2" cy="132.7" r="2.05" fill="#cf91a3" stroke="#fff" stroke-width="0.45"/>
<circle cx="560.3" cy="131.0" r="2.05" fill="#945785" stroke="#fff" stroke-width="0.45"/>
<circle cx="497.7" cy="141.6" r="2.05" fill="#d79ea9" stroke="#fff" stroke-width="0.45"/>
<circle cx="489.2" cy="143.8" r="2.05" fill="#ca899f" stroke="#fff" stroke-width="0.45"/>
<circle cx="494.4" cy="141.2" r="2.05" fill="#c6859d" stroke="#fff" stroke-width="0.45"/>
<circle cx="496.4" cy="147.8" r="2.05" fill="#995a88" stroke="#fff" stroke-width="0.45"/>
<circle cx="504.6" cy="133.4" r="2.05" fill="#e0afb3" stroke="#fff" stroke-width="0.45"/>
<circle cx="495.8" cy="173.5" r="2.05" fill="#9f5f8a" stroke="#fff" stroke-width="0.45"/>
<circle cx="487.7" cy="130.4" r="2.05" fill="#d093a4" stroke="#fff" stroke-width="0.45"/>
<circle cx="528.1" cy="136.5" r="2.05" fill="#613969" stroke="#fff" stroke-width="0.45"/>
<circle cx="503.4" cy="139.1" r="2.05" fill="#c07d99" stroke="#fff" stroke-width="0.45"/>
<circle cx="511.3" cy="128.2" r="2.05" fill="#ca899f" stroke="#fff" stroke-width="0.45"/>
<circle cx="497.3" cy="114.1" r="2.05" fill="#955786" stroke="#fff" stroke-width="0.45"/>
<circle cx="460.5" cy="189.5" r="2.05" fill="#864e7e" stroke="#fff" stroke-width="0.45"/>
<circle cx="507.0" cy="140.6" r="2.05" fill="#9f5f8a" stroke="#fff" stroke-width="0.45"/>
<circle cx="470.9" cy="142.1" r="2.05" fill="#905483" stroke="#fff" stroke-width="0.45"/>
<circle cx="568.9" cy="130.0" r="2.05" fill="#c6859d" stroke="#fff" stroke-width="0.45"/>
<circle cx="476.5" cy="175.7" r="2.05" fill="#965886" stroke="#fff" stroke-width="0.45"/>
<circle cx="451.4" cy="148.7" r="2.05" fill="#8c5181" stroke="#fff" stroke-width="0.45"/>
<circle cx="479.0" cy="139.3" r="2.05" fill="#c07d99" stroke="#fff" stroke-width="0.45"/>
<circle cx="517.9" cy="121.6" r="2.05" fill="#a3628c" stroke="#fff" stroke-width="0.45"/>
<circle cx="469.9" cy="182.6" r="2.05" fill="#653b6c" stroke="#fff" stroke-width="0.45"/>
<circle cx="457.3" cy="172.3" r="2.05" fill="#7c4879" stroke="#fff" stroke-width="0.45"/>
<circle cx="519.2" cy="121.8" r="2.05" fill="#814a7c" stroke="#fff" stroke-width="0.45"/>
<circle cx="567.4" cy="89.7" r="2.05" fill="#8e5383" stroke="#fff" stroke-width="0.45"/>
<circle cx="494.9" cy="120.7" r="2.05" fill="#965886" stroke="#fff" stroke-width="0.45"/>
<circle cx="477.7" cy="175.0" r="2.05" fill="#8e5383" stroke="#fff" stroke-width="0.45"/>
<circle cx="440.8" cy="155.4" r="2.05" fill="#6c3f70" stroke="#fff" stroke-width="0.45"/>
<circle cx="480.5" cy="150.1" r="2.05" fill="#a9678f" stroke="#fff" stroke-width="0.45"/>
<circle cx="461.8" cy="136.0" r="2.05" fill="#9f5f8a" stroke="#fff" stroke-width="0.45"/>
<circle cx="496.6" cy="130.7" r="2.05" fill="#b97596" stroke="#fff" stroke-width="0.45"/>
<circle cx="485.9" cy="153.1" r="2.05" fill="#d79ea9" stroke="#fff" stroke-width="0.45"/>
<circle cx="465.3" cy="186.0" r="2.05" fill="#905483" stroke="#fff" stroke-width="0.45"/>
<circle cx="497.4" cy="122.6" r="2.05" fill="#d59aa7" stroke="#fff" stroke-width="0.45"/>
<circle cx="460.0" cy="215.8" r="2.05" fill="#c17e9a" stroke="#fff" stroke-width="0.45"/>
<circle cx="469.2" cy="142.8" r="2.05" fill="#784577" stroke="#fff" stroke-width="0.45"/>
<circle cx="499.1" cy="136.5" r="2.05" fill="#c07d99" stroke="#fff" stroke-width="0.45"/>
<circle cx="478.7" cy="146.0" r="2.05" fill="#e0afb3" stroke="#fff" stroke-width="0.45"/>
<circle cx="543.1" cy="131.0" r="2.05" fill="#613969" stroke="#fff" stroke-width="0.45"/>
<circle cx="503.3" cy="93.5" r="2.05" fill="#794678" stroke="#fff" stroke-width="0.45"/>
<circle cx="463.3" cy="165.0" r="2.05" fill="#9f5f8a" stroke="#fff" stroke-width="0.45"/>
<circle cx="486.6" cy="147.5" r="2.05" fill="#cf91a3" stroke="#fff" stroke-width="0.45"/>
<circle cx="488.7" cy="124.5" r="2.05" fill="#9f5f8a" stroke="#fff" stroke-width="0.45"/>
<circle cx="503.2" cy="115.6" r="2.05" fill="#c27f9a" stroke="#fff" stroke-width="0.45"/>
<circle cx="529.7" cy="100.9" r="2.05" fill="#864e7e" stroke="#fff" stroke-width="0.45"/>
<circle cx="470.2" cy="133.2" r="2.05" fill="#7f497b" stroke="#fff" stroke-width="0.45"/>
<circle cx="508.5" cy="120.6" r="2.05" fill="#be7b98" stroke="#fff" stroke-width="0.45"/>
<circle cx="457.9" cy="157.7" r="2.05" fill="#814a7c" stroke="#fff" stroke-width="0.45"/>
<circle cx="505.4" cy="127.8" r="2.05" fill="#d396a5" stroke="#fff" stroke-width="0.45"/>
<circle cx="497.5" cy="133.2" r="2.05" fill="#dca7ae" stroke="#fff" stroke-width="0.45"/>
<circle cx="496.8" cy="144.0" r="2.05" fill="#b97596" stroke="#fff" stroke-width="0.45"/>
<circle cx="514.7" cy="147.3" r="2.05" fill="#c6859d" stroke="#fff" stroke-width="0.45"/>
<circle cx="467.8" cy="145.1" r="2.05" fill="#ab6990" stroke="#fff" stroke-width="0.45"/>
<circle cx="491.0" cy="146.2" r="2.05" fill="#ca899f" stroke="#fff" stroke-width="0.45"/>
<circle cx="468.8" cy="164.3" r="2.05" fill="#965886" stroke="#fff" stroke-width="0.45"/>
<circle cx="507.6" cy="131.2" r="2.05" fill="#c2809b" stroke="#fff" stroke-width="0.45"/>
<circle cx="506.7" cy="125.9" r="2.05" fill="#834c7d" stroke="#fff" stroke-width="0.45"/>
<circle cx="486.9" cy="123.0" r="2.05" fill="#b57294" stroke="#fff" stroke-width="0.45"/>
<circle cx="478.8" cy="162.3" r="2.05" fill="#643a6b" stroke="#fff" stroke-width="0.45"/>
<circle cx="455.4" cy="163.8" r="2.05" fill="#5f3868" stroke="#fff" stroke-width="0.45"/>
<circle cx="475.3" cy="133.2" r="2.05" fill="#915584" stroke="#fff" stroke-width="0.45"/>
<circle cx="472.3" cy="137.4" r="2.05" fill="#9a5b88" stroke="#fff" stroke-width="0.45"/>
<circle cx="467.7" cy="136.2" r="2.05" fill="#a1608b" stroke="#fff" stroke-width="0.45"/>
<circle cx="506.8" cy="133.5" r="2.05" fill="#c8879e" stroke="#fff" stroke-width="0.45"/>
<circle cx="480.9" cy="137.2" r="2.05" fill="#d397a6" stroke="#fff" stroke-width="0.45"/>
<circle cx="446.2" cy="161.9" r="2.05" fill="#884f7f" stroke="#fff" stroke-width="0.45"/>
<circle cx="485.2" cy="134.2" r="2.05" fill="#c8879e" stroke="#fff" stroke-width="0.45"/>
<circle cx="472.0" cy="152.5" r="2.05" fill="#884f7f" stroke="#fff" stroke-width="0.45"/>
<circle cx="498.1" cy="114.4" r="2.05" fill="#754475" stroke="#fff" stroke-width="0.45"/>
<circle cx="520.5" cy="125.5" r="2.05" fill="#9d5d89" stroke="#fff" stroke-width="0.45"/>
<circle cx="499.1" cy="124.1" r="2.05" fill="#c8879e" stroke="#fff" stroke-width="0.45"/>
<circle cx="500.3" cy="120.2" r="2.05" fill="#d59aa7" stroke="#fff" stroke-width="0.45"/>
<circle cx="474.8" cy="143.2" r="2.05" fill="#915584" stroke="#fff" stroke-width="0.45"/>
<circle cx="477.5" cy="149.2" r="2.05" fill="#b06d92" stroke="#fff" stroke-width="0.45"/>
<circle cx="478.4" cy="133.4" r="2.05" fill="#a4638d" stroke="#fff" stroke-width="0.45"/>
<circle cx="494.7" cy="149.9" r="2.05" fill="#995a88" stroke="#fff" stroke-width="0.45"/>
<circle cx="511.9" cy="124.7" r="2.05" fill="#ba7696" stroke="#fff" stroke-width="0.45"/>
<circle cx="518.1" cy="171.6" r="2.05" fill="#533260" stroke="#fff" stroke-width="0.45"/>
<circle cx="437.6" cy="164.1" r="2.05" fill="#774576" stroke="#fff" stroke-width="0.45"/>
<circle cx="553.5" cy="173.8" r="2.05" fill="#533260" stroke="#fff" stroke-width="0.45"/>
<circle cx="496.6" cy="147.0" r="2.05" fill="#884f7f" stroke="#fff" stroke-width="0.45"/>
<circle cx="488.2" cy="122.3" r="2.05" fill="#6e4071" stroke="#fff" stroke-width="0.45"/>
<circle cx="444.0" cy="171.2" r="2.05" fill="#693d6f" stroke="#fff" stroke-width="0.45"/>
<circle cx="493.7" cy="151.6" r="2.05" fill="#a2618c" stroke="#fff" stroke-width="0.45"/>
<circle cx="492.0" cy="128.3" r="2.05" fill="#ca899f" stroke="#fff" stroke-width="0.45"/>
<circle cx="485.5" cy="128.3" r="2.05" fill="#985987" stroke="#fff" stroke-width="0.45"/>
<circle cx="464.0" cy="153.7" r="2.05" fill="#995a88" stroke="#fff" stroke-width="0.45"/>
<circle cx="472.6" cy="149.1" r="2.05" fill="#ab6990" stroke="#fff" stroke-width="0.45"/>
<circle cx="551.2" cy="101.5" r="2.05" fill="#945785" stroke="#fff" stroke-width="0.45"/>
<circle cx="490.5" cy="126.4" r="2.05" fill="#cf90a2" stroke="#fff" stroke-width="0.45"/>
<circle cx="507.2" cy="136.9" r="2.05" fill="#c07d99" stroke="#fff" stroke-width="0.45"/>
<circle cx="441.0" cy="184.1" r="2.05" fill="#714173" stroke="#fff" stroke-width="0.45"/>
<circle cx="506.8" cy="114.3" r="2.05" fill="#c3819c" stroke="#fff" stroke-width="0.45"/>
<circle cx="486.5" cy="132.1" r="2.05" fill="#cb8aa0" stroke="#fff" stroke-width="0.45"/>
<circle cx="495.0" cy="129.1" r="2.05" fill="#c07d99" stroke="#fff" stroke-width="0.45"/>
<circle cx="501.5" cy="145.4" r="2.05" fill="#b97596" stroke="#fff" stroke-width="0.45"/>
<circle cx="489.2" cy="194.9" r="2.05" fill="#794678" stroke="#fff" stroke-width="0.45"/>
<circle cx="520.4" cy="139.3" r="2.05" fill="#613969" stroke="#fff" stroke-width="0.45"/>
<circle cx="501.3" cy="129.8" r="2.05" fill="#c8879e" stroke="#fff" stroke-width="0.45"/>
<circle cx="510.3" cy="135.1" r="2.05" fill="#ba7696" stroke="#fff" stroke-width="0.45"/>
<circle cx="512.6" cy="124.0" r="2.05" fill="#cf90a2" stroke="#fff" stroke-width="0.45"/>
<circle cx="457.9" cy="153.0" r="2.05" fill="#5e3767" stroke="#fff" stroke-width="0.45"/>
<circle cx="489.0" cy="135.1" r="2.05" fill="#d396a5" stroke="#fff" stroke-width="0.45"/>
<circle cx="466.7" cy="187.7" r="2.05" fill="#7e497a" stroke="#fff" stroke-width="0.45"/>
<circle cx="483.9" cy="154.3" r="2.05" fill="#4c2e5a" stroke="#fff" stroke-width="0.45"/>
<circle cx="498.4" cy="113.6" r="2.05" fill="#ab6990" stroke="#fff" stroke-width="0.45"/>
<circle cx="458.9" cy="166.4" r="2.05" fill="#6f4172" stroke="#fff" stroke-width="0.45"/>
<circle cx="447.7" cy="166.1" r="2.05" fill="#613969" stroke="#fff" stroke-width="0.45"/>
<circle cx="484.7" cy="139.5" r="2.05" fill="#c8879e" stroke="#fff" stroke-width="0.45"/>
<circle cx="513.7" cy="111.5" r="2.05" fill="#c6859d" stroke="#fff" stroke-width="0.45"/>
<circle cx="498.4" cy="116.5" r="2.05" fill="#a5648d" stroke="#fff" stroke-width="0.45"/>
<circle cx="491.7" cy="128.1" r="2.05" fill="#ba7696" stroke="#fff" stroke-width="0.45"/>
<circle cx="486.4" cy="130.1" r="2.05" fill="#c7869e" stroke="#fff" stroke-width="0.45"/>
<circle cx="510.7" cy="170.1" r="2.05" fill="#c6859d" stroke="#fff" stroke-width="0.45"/>
<circle cx="479.2" cy="125.4" r="2.05" fill="#9f5f8a" stroke="#fff" stroke-width="0.45"/>
<circle cx="495.7" cy="132.1" r="2.05" fill="#cc8da1" stroke="#fff" stroke-width="0.45"/>
<circle cx="503.2" cy="93.4" r="2.05" fill="#864e7e" stroke="#fff" stroke-width="0.45"/>
<circle cx="511.2" cy="134.4" r="2.05" fill="#8a5081" stroke="#fff" stroke-width="0.45"/>
<circle cx="478.8" cy="143.5" r="2.05" fill="#cb8aa0" stroke="#fff" stroke-width="0.45"/>
<circle cx="497.2" cy="133.1" r="2.05" fill="#c8879e" stroke="#fff" stroke-width="0.45"/>
<circle cx="530.1" cy="134.9" r="2.05" fill="#e3b6b7" stroke="#fff" stroke-width="0.45"/>
<circle cx="509.0" cy="121.5" r="2.05" fill="#b97596" stroke="#fff" stroke-width="0.45"/>
<circle cx="470.7" cy="138.1" r="2.05" fill="#653b6c" stroke="#fff" stroke-width="0.45"/>
<circle cx="496.8" cy="133.8" r="2.05" fill="#cb8aa0" stroke="#fff" stroke-width="0.45"/>
<circle cx="507.1" cy="129.1" r="2.05" fill="#cf91a3" stroke="#fff" stroke-width="0.45"/>
<circle cx="470.6" cy="148.3" r="2.05" fill="#a9678f" stroke="#fff" stroke-width="0.45"/>
<circle cx="504.8" cy="115.2" r="2.05" fill="#cf91a3" stroke="#fff" stroke-width="0.45"/>
<circle cx="478.5" cy="137.1" r="2.05" fill="#ca899f" stroke="#fff" stroke-width="0.45"/>
<circle cx="512.0" cy="118.2" r="2.05" fill="#c6859d" stroke="#fff" stroke-width="0.45"/>
<circle cx="513.5" cy="154.7" r="2.05" fill="#c6859d" stroke="#fff" stroke-width="0.45"/>
<circle cx="440.2" cy="160.6" r="2.05" fill="#673c6d" stroke="#fff" stroke-width="0.45"/>
<circle cx="501.7" cy="130.3" r="2.05" fill="#c8879e" stroke="#fff" stroke-width="0.45"/>
<circle cx="497.7" cy="119.8" r="2.05" fill="#bb7797" stroke="#fff" stroke-width="0.45"/>
<circle cx="528.1" cy="108.9" r="2.05" fill="#915584" stroke="#fff" stroke-width="0.45"/>
<circle cx="542.7" cy="169.2" r="2.05" fill="#533260" stroke="#fff" stroke-width="0.45"/>
<circle cx="448.8" cy="177.4" r="2.05" fill="#6b3e6f" stroke="#fff" stroke-width="0.45"/>
<circle cx="472.4" cy="158.6" r="2.05" fill="#b77495" stroke="#fff" stroke-width="0.45"/>
<circle cx="463.4" cy="180.7" r="2.05" fill="#784577" stroke="#fff" stroke-width="0.45"/>
<circle cx="482.4" cy="160.6" r="2.05" fill="#673c6d" stroke="#fff" stroke-width="0.45"/>
<circle cx="458.2" cy="148.9" r="2.05" fill="#8d5282" stroke="#fff" stroke-width="0.45"/>
<circle cx="448.4" cy="187.7" r="2.05" fill="#905483" stroke="#fff" stroke-width="0.45"/>
<circle cx="550.6" cy="107.6" r="2.05" fill="#864e7e" stroke="#fff" stroke-width="0.45"/>
<circle cx="459.2" cy="139.2" r="2.05" fill="#9f5f8a" stroke="#fff" stroke-width="0.45"/>
<circle cx="465.0" cy="167.7" r="2.05" fill="#9f5f8a" stroke="#fff" stroke-width="0.45"/>
<circle cx="474.6" cy="147.0" r="2.05" fill="#9d5d89" stroke="#fff" stroke-width="0.45"/>
<circle cx="496.6" cy="122.5" r="2.05" fill="#ab6990" stroke="#fff" stroke-width="0.45"/>
<circle cx="500.1" cy="134.4" r="2.05" fill="#bf7c99" stroke="#fff" stroke-width="0.45"/>
<circle cx="495.9" cy="144.3" r="2.05" fill="#c3819c" stroke="#fff" stroke-width="0.45"/>
<circle cx="528.0" cy="139.9" r="2.05" fill="#945785" stroke="#fff" stroke-width="0.45"/>
<circle cx="504.4" cy="114.2" r="2.05" fill="#c7869e" stroke="#fff" stroke-width="0.45"/>
<circle cx="454.2" cy="185.3" r="2.05" fill="#814a7c" stroke="#fff" stroke-width="0.45"/>
<circle cx="495.7" cy="144.9" r="2.05" fill="#ca899f" stroke="#fff" stroke-width="0.45"/>
<circle cx="454.0" cy="146.1" r="2.05" fill="#6e4071" stroke="#fff" stroke-width="0.45"/>
<circle cx="498.1" cy="114.8" r="2.05" fill="#a2618c" stroke="#fff" stroke-width="0.45"/>
<circle cx="510.4" cy="145.0" r="2.05" fill="#c6859d" stroke="#fff" stroke-width="0.45"/>
<circle cx="474.9" cy="158.8" r="2.05" fill="#864e7e" stroke="#fff" stroke-width="0.45"/>
<circle cx="471.3" cy="165.3" r="2.05" fill="#b47194" stroke="#fff" stroke-width="0.45"/>
<circle cx="489.6" cy="147.5" r="2.05" fill="#7c4879" stroke="#fff" stroke-width="0.45"/>
<circle cx="543.0" cy="108.1" r="2.05" fill="#9d5d89" stroke="#fff" stroke-width="0.45"/>
<circle cx="505.2" cy="111.3" r="2.05" fill="#884f7f" stroke="#fff" stroke-width="0.45"/>
<circle cx="478.3" cy="144.5" r="2.05" fill="#c3819c" stroke="#fff" stroke-width="0.45"/>
<circle cx="499.9" cy="140.1" r="2.05" fill="#c07d99" stroke="#fff" stroke-width="0.45"/>
<circle cx="504.0" cy="114.4" r="2.05" fill="#c8879e" stroke="#fff" stroke-width="0.45"/>
<circle cx="490.5" cy="151.8" r="2.05" fill="#ab6990" stroke="#fff" stroke-width="0.45"/>
<circle cx="446.6" cy="162.1" r="2.05" fill="#724274" stroke="#fff" stroke-width="0.45"/>
<circle cx="498.6" cy="134.1" r="2.05" fill="#c7869e" stroke="#fff" stroke-width="0.45"/>
<circle cx="465.5" cy="147.3" r="2.05" fill="#915584" stroke="#fff" stroke-width="0.45"/>
<circle cx="478.4" cy="164.7" r="2.05" fill="#6f4172" stroke="#fff" stroke-width="0.45"/>
<circle cx="512.2" cy="120.2" r="2.05" fill="#d499a7" stroke="#fff" stroke-width="0.45"/>
<circle cx="450.4" cy="166.3" r="2.05" fill="#834c7d" stroke="#fff" stroke-width="0.45"/>
<circle cx="522.4" cy="118.3" r="2.05" fill="#b37093" stroke="#fff" stroke-width="0.45"/>
<circle cx="485.2" cy="126.9" r="2.05" fill="#995a88" stroke="#fff" stroke-width="0.45"/>
<circle cx="477.3" cy="153.7" r="2.05" fill="#824b7c" stroke="#fff" stroke-width="0.45"/>
<circle cx="488.1" cy="142.8" r="2.05" fill="#d8a0aa" stroke="#fff" stroke-width="0.45"/>
<circle cx="499.0" cy="95.0" r="2.05" fill="#794678" stroke="#fff" stroke-width="0.45"/>
<circle cx="516.1" cy="124.4" r="2.05" fill="#ce8fa2" stroke="#fff" stroke-width="0.45"/>
<circle cx="502.6" cy="136.1" r="2.05" fill="#cc8da1" stroke="#fff" stroke-width="0.45"/>
<circle cx="510.6" cy="116.4" r="2.05" fill="#c5849d" stroke="#fff" stroke-width="0.45"/>
<circle cx="469.3" cy="173.7" r="2.05" fill="#6e4071" stroke="#fff" stroke-width="0.45"/>
<circle cx="495.5" cy="130.4" r="2.05" fill="#be7b98" stroke="#fff" stroke-width="0.45"/>
<circle cx="513.2" cy="177.8" r="2.05" fill="#b37093" stroke="#fff" stroke-width="0.45"/>
<circle cx="504.1" cy="112.1" r="2.05" fill="#bb7797" stroke="#fff" stroke-width="0.45"/>
<circle cx="484.3" cy="128.6" r="2.05" fill="#d295a5" stroke="#fff" stroke-width="0.45"/>
<circle cx="482.4" cy="128.1" r="2.05" fill="#965886" stroke="#fff" stroke-width="0.45"/>
<circle cx="475.3" cy="138.5" r="2.05" fill="#ca899f" stroke="#fff" stroke-width="0.45"/>
<circle cx="465.2" cy="181.3" r="2.05" fill="#693d6f" stroke="#fff" stroke-width="0.45"/>
<circle cx="517.2" cy="120.5" r="2.05" fill="#b97596" stroke="#fff" stroke-width="0.45"/>
<circle cx="515.3" cy="119.9" r="2.05" fill="#d295a5" stroke="#fff" stroke-width="0.45"/>
<circle cx="511.0" cy="100.0" r="2.05" fill="#864e7e" stroke="#fff" stroke-width="0.45"/>
<circle cx="489.9" cy="133.7" r="2.05" fill="#c27f9a" stroke="#fff" stroke-width="0.45"/>
<circle cx="473.6" cy="152.9" r="2.05" fill="#3f284f" stroke="#fff" stroke-width="0.45"/>
<circle cx="557.3" cy="146.2" r="2.05" fill="#945785" stroke="#fff" stroke-width="0.45"/>
<circle cx="442.4" cy="159.9" r="2.05" fill="#794678" stroke="#fff" stroke-width="0.45"/>
<circle cx="471.4" cy="167.0" r="2.05" fill="#965886" stroke="#fff" stroke-width="0.45"/>
<circle cx="487.2" cy="122.8" r="2.05" fill="#613969" stroke="#fff" stroke-width="0.45"/>
<circle cx="490.4" cy="155.2" r="2.05" fill="#b97596" stroke="#fff" stroke-width="0.45"/>
<circle cx="495.8" cy="149.7" r="2.05" fill="#b97596" stroke="#fff" stroke-width="0.45"/>
<circle cx="509.5" cy="135.6" r="2.05" fill="#b97596" stroke="#fff" stroke-width="0.45"/>
<circle cx="474.6" cy="134.8" r="2.05" fill="#995a88" stroke="#fff" stroke-width="0.45"/>
<circle cx="475.6" cy="141.5" r="2.05" fill="#d396a5" stroke="#fff" stroke-width="0.45"/>
<circle cx="459.6" cy="192.0" r="2.05" fill="#945785" stroke="#fff" stroke-width="0.45"/>
<circle cx="461.4" cy="186.4" r="2.05" fill="#6f4172" stroke="#fff" stroke-width="0.45"/>
<circle cx="501.4" cy="131.0" r="2.05" fill="#dca7ae" stroke="#fff" stroke-width="0.45"/>
<circle cx="492.6" cy="132.0" r="2.05" fill="#cc8da1" stroke="#fff" stroke-width="0.45"/>
<circle cx="476.0" cy="164.9" r="2.05" fill="#955786" stroke="#fff" stroke-width="0.45"/>
<circle cx="490.5" cy="130.7" r="2.05" fill="#ca899f" stroke="#fff" stroke-width="0.45"/>
<circle cx="459.2" cy="166.0" r="2.05" fill="#5c3666" stroke="#fff" stroke-width="0.45"/>
<circle cx="498.4" cy="122.6" r="2.05" fill="#d194a4" stroke="#fff" stroke-width="0.45"/>
<circle cx="501.3" cy="127.6" r="2.05" fill="#d59ba8" stroke="#fff" stroke-width="0.45"/>
<circle cx="485.7" cy="129.7" r="2.05" fill="#cb8aa0" stroke="#fff" stroke-width="0.45"/>
<circle cx="505.4" cy="111.6" r="2.05" fill="#b77495" stroke="#fff" stroke-width="0.45"/>
<circle cx="452.1" cy="186.1" r="2.05" fill="#8d5282" stroke="#fff" stroke-width="0.45"/>
<circle cx="473.1" cy="140.8" r="2.05" fill="#965886" stroke="#fff" stroke-width="0.45"/>
<circle cx="506.6" cy="137.9" r="2.05" fill="#b37093" stroke="#fff" stroke-width="0.45"/>
<circle cx="450.1" cy="164.7" r="2.05" fill="#533260" stroke="#fff" stroke-width="0.45"/>
<circle cx="463.4" cy="159.0" r="2.05" fill="#a2618c" stroke="#fff" stroke-width="0.45"/>
<circle cx="461.5" cy="136.2" r="2.05" fill="#9f5f8a" stroke="#fff" stroke-width="0.45"/>
<circle cx="479.0" cy="139.8" r="2.05" fill="#cb8aa0" stroke="#fff" stroke-width="0.45"/>
<circle cx="465.6" cy="178.5" r="2.05" fill="#7c4879" stroke="#fff" stroke-width="0.45"/>
<circle cx="468.1" cy="136.5" r="2.05" fill="#6c3f70" stroke="#fff" stroke-width="0.45"/>
<circle cx="467.8" cy="185.8" r="2.05" fill="#7c4879" stroke="#fff" stroke-width="0.45"/>
<circle cx="552.8" cy="110.6" r="2.05" fill="#945785" stroke="#fff" stroke-width="0.45"/>
<circle cx="476.3" cy="155.2" r="2.05" fill="#9e5e8a" stroke="#fff" stroke-width="0.45"/>
<circle cx="494.4" cy="124.1" r="2.05" fill="#c2809b" stroke="#fff" stroke-width="0.45"/>
<circle cx="469.5" cy="154.2" r="2.05" fill="#a5648d" stroke="#fff" stroke-width="0.45"/>
<circle cx="446.3" cy="164.1" r="2.05" fill="#563362" stroke="#fff" stroke-width="0.45"/>
<circle cx="504.5" cy="136.6" r="2.05" fill="#d9a1ab" stroke="#fff" stroke-width="0.45"/>
<circle cx="524.8" cy="104.1" r="2.05" fill="#945785" stroke="#fff" stroke-width="0.45"/>
<circle cx="507.3" cy="139.6" r="2.05" fill="#864e7e" stroke="#fff" stroke-width="0.45"/>
<circle cx="443.5" cy="176.8" r="2.05" fill="#583463" stroke="#fff" stroke-width="0.45"/>
<circle cx="455.3" cy="149.4" r="2.05" fill="#864e7e" stroke="#fff" stroke-width="0.45"/>
<circle cx="459.0" cy="157.5" r="2.05" fill="#b06d92" stroke="#fff" stroke-width="0.45"/>
<circle cx="486.7" cy="130.3" r="2.05" fill="#c6859d" stroke="#fff" stroke-width="0.45"/>
<circle cx="493.0" cy="146.0" r="2.05" fill="#d093a4" stroke="#fff" stroke-width="0.45"/>
<circle cx="501.6" cy="142.5" r="2.05" fill="#c07d99" stroke="#fff" stroke-width="0.45"/>
<circle cx="483.5" cy="139.9" r="2.05" fill="#bd7a98" stroke="#fff" stroke-width="0.45"/>
<circle cx="458.9" cy="184.4" r="2.05" fill="#814a7c" stroke="#fff" stroke-width="0.45"/>
<circle cx="480.3" cy="131.3" r="2.05" fill="#9d5d89" stroke="#fff" stroke-width="0.45"/>
<circle cx="451.8" cy="172.8" r="2.05" fill="#945785" stroke="#fff" stroke-width="0.45"/>
<circle cx="470.8" cy="200.6" r="2.05" fill="#a9678f" stroke="#fff" stroke-width="0.45"/>
<circle cx="500.2" cy="120.3" r="2.05" fill="#d69ca8" stroke="#fff" stroke-width="0.45"/>
<circle cx="497.8" cy="129.3" r="2.05" fill="#dba5ad" stroke="#fff" stroke-width="0.45"/>
<circle cx="505.9" cy="132.9" r="2.05" fill="#c07d99" stroke="#fff" stroke-width="0.45"/>
<circle cx="517.0" cy="109.0" r="2.05" fill="#b37093" stroke="#fff" stroke-width="0.45"/>
<circle cx="538.8" cy="130.2" r="2.05" fill="#613969" stroke="#fff" stroke-width="0.45"/>
<circle cx="451.5" cy="153.9" r="2.05" fill="#a9678f" stroke="#fff" stroke-width="0.45"/>
<circle cx="441.9" cy="158.5" r="2.05" fill="#794678" stroke="#fff" stroke-width="0.45"/>
<circle cx="538.8" cy="120.9" r="2.05" fill="#a9678f" stroke="#fff" stroke-width="0.45"/>
<circle cx="501.1" cy="117.9" r="2.05" fill="#cb8aa0" stroke="#fff" stroke-width="0.45"/>
<circle cx="488.0" cy="124.1" r="2.05" fill="#a8668e" stroke="#fff" stroke-width="0.45"/>
<circle cx="438.9" cy="246.3" r="2.05" fill="#342245" stroke="#fff" stroke-width="0.45"/>
<circle cx="487.9" cy="145.3" r="2.05" fill="#cb8ca0" stroke="#fff" stroke-width="0.45"/>
<circle cx="478.8" cy="148.3" r="2.05" fill="#a2618c" stroke="#fff" stroke-width="0.45"/>
<circle cx="509.7" cy="125.5" r="2.05" fill="#cc8da1" stroke="#fff" stroke-width="0.45"/>
<circle cx="498.4" cy="132.4" r="2.05" fill="#c27f9a" stroke="#fff" stroke-width="0.45"/>
<circle cx="499.2" cy="126.3" r="2.05" fill="#cf90a2" stroke="#fff" stroke-width="0.45"/>
<circle cx="459.3" cy="152.9" r="2.05" fill="#6e4071" stroke="#fff" stroke-width="0.45"/>
<circle cx="481.8" cy="145.9" r="2.05" fill="#c07d99" stroke="#fff" stroke-width="0.45"/>
<circle cx="440.6" cy="179.9" r="2.05" fill="#864e7e" stroke="#fff" stroke-width="0.45"/>
<circle cx="486.5" cy="153.5" r="2.05" fill="#d79ea9" stroke="#fff" stroke-width="0.45"/>
<circle cx="481.8" cy="156.8" r="2.05" fill="#834c7d" stroke="#fff" stroke-width="0.45"/>
<circle cx="458.9" cy="142.2" r="2.05" fill="#985987" stroke="#fff" stroke-width="0.45"/>
<circle cx="486.7" cy="126.2" r="2.05" fill="#724274" stroke="#fff" stroke-width="0.45"/>
<circle cx="532.7" cy="148.4" r="2.05" fill="#533260" stroke="#fff" stroke-width="0.45"/>
<circle cx="524.4" cy="117.1" r="2.05" fill="#d79ea9" stroke="#fff" stroke-width="0.45"/>
<circle cx="440.9" cy="182.4" r="2.05" fill="#5c3666" stroke="#fff" stroke-width="0.45"/>
<circle cx="504.7" cy="118.5" r="2.05" fill="#b77495" stroke="#fff" stroke-width="0.45"/>
<circle cx="489.5" cy="129.1" r="2.05" fill="#c27f9a" stroke="#fff" stroke-width="0.45"/>
<circle cx="494.2" cy="135.5" r="2.05" fill="#d093a4" stroke="#fff" stroke-width="0.45"/>
<circle cx="524.2" cy="169.6" r="2.05" fill="#c6859d" stroke="#fff" stroke-width="0.45"/>
<circle cx="442.6" cy="176.1" r="2.05" fill="#5b3665" stroke="#fff" stroke-width="0.45"/>
<circle cx="514.7" cy="99.9" r="2.05" fill="#894f80" stroke="#fff" stroke-width="0.45"/>
<circle cx="493.9" cy="129.9" r="2.05" fill="#c6859d" stroke="#fff" stroke-width="0.45"/>
<circle cx="477.1" cy="162.2" r="2.05" fill="#995a88" stroke="#fff" stroke-width="0.45"/>
<circle cx="435.2" cy="233.1" r="2.05" fill="#382449" stroke="#fff" stroke-width="0.45"/>
<circle cx="472.6" cy="158.0" r="2.05" fill="#7c4879" stroke="#fff" stroke-width="0.45"/>
<circle cx="474.3" cy="148.7" r="2.05" fill="#9b5c89" stroke="#fff" stroke-width="0.45"/>
<circle cx="470.7" cy="163.8" r="2.05" fill="#925684" stroke="#fff" stroke-width="0.45"/>
<circle cx="507.2" cy="122.4" r="2.05" fill="#c6859d" stroke="#fff" stroke-width="0.45"/>
<circle cx="480.8" cy="111.8" r="2.05" fill="#c9889f" stroke="#fff" stroke-width="0.45"/>
<circle cx="469.4" cy="158.1" r="2.05" fill="#9a5b88" stroke="#fff" stroke-width="0.45"/>
<circle cx="484.9" cy="126.4" r="2.05" fill="#9e5e8a" stroke="#fff" stroke-width="0.45"/>
<circle cx="473.0" cy="145.0" r="2.05" fill="#ac6a90" stroke="#fff" stroke-width="0.45"/>
<circle cx="504.3" cy="119.5" r="2.05" fill="#cf90a2" stroke="#fff" stroke-width="0.45"/>
<circle cx="503.0" cy="123.2" r="2.05" fill="#cc8da1" stroke="#fff" stroke-width="0.45"/>
<circle cx="490.4" cy="143.8" r="2.05" fill="#bd7a98" stroke="#fff" stroke-width="0.45"/>
<circle cx="446.3" cy="185.3" r="2.05" fill="#653b6c" stroke="#fff" stroke-width="0.45"/>
<circle cx="495.0" cy="99.0" r="2.05" fill="#794678" stroke="#fff" stroke-width="0.45"/>
<circle cx="517.3" cy="130.5" r="2.05" fill="#a7658e" stroke="#fff" stroke-width="0.45"/>
<circle cx="471.7" cy="150.7" r="2.05" fill="#a7658e" stroke="#fff" stroke-width="0.45"/>
<circle cx="463.7" cy="187.5" r="2.05" fill="#5b3665" stroke="#fff" stroke-width="0.45"/>
<circle cx="541.2" cy="105.1" r="2.05" fill="#905483" stroke="#fff" stroke-width="0.45"/>
<circle cx="485.9" cy="140.2" r="2.05" fill="#daa4ac" stroke="#fff" stroke-width="0.45"/>
<circle cx="494.3" cy="151.6" r="2.05" fill="#a4638d" stroke="#fff" stroke-width="0.45"/>
<circle cx="502.8" cy="131.5" r="2.05" fill="#c17e9a" stroke="#fff" stroke-width="0.45"/>
<circle cx="528.1" cy="139.9" r="2.05" fill="#613969" stroke="#fff" stroke-width="0.45"/>
<circle cx="509.5" cy="137.0" r="2.05" fill="#c3819c" stroke="#fff" stroke-width="0.45"/>
<circle cx="512.9" cy="134.8" r="2.05" fill="#c7869e" stroke="#fff" stroke-width="0.45"/>
<circle cx="502.1" cy="121.9" r="2.05" fill="#ae6b91" stroke="#fff" stroke-width="0.45"/>
<circle cx="483.4" cy="124.9" r="2.05" fill="#6c3f70" stroke="#fff" stroke-width="0.45"/>
<circle cx="511.2" cy="136.8" r="2.05" fill="#a8668e" stroke="#fff" stroke-width="0.45"/>
<circle cx="473.8" cy="155.3" r="2.05" fill="#8d5282" stroke="#fff" stroke-width="0.45"/>
<circle cx="490.3" cy="139.4" r="2.05" fill="#c17e9a" stroke="#fff" stroke-width="0.45"/>
<circle cx="531.7" cy="109.6" r="2.05" fill="#6f4172" stroke="#fff" stroke-width="0.45"/>
<circle cx="459.3" cy="178.8" r="2.05" fill="#794678" stroke="#fff" stroke-width="0.45"/>
<circle cx="443.8" cy="184.5" r="2.05" fill="#864e7e" stroke="#fff" stroke-width="0.45"/>
<circle cx="475.6" cy="138.3" r="2.05" fill="#bd7a98" stroke="#fff" stroke-width="0.45"/>
<circle cx="476.2" cy="164.9" r="2.05" fill="#724274" stroke="#fff" stroke-width="0.45"/>
<circle cx="543.5" cy="108.9" r="2.05" fill="#915584" stroke="#fff" stroke-width="0.45"/>
<circle cx="472.2" cy="160.1" r="2.05" fill="#482c57" stroke="#fff" stroke-width="0.45"/>
<circle cx="518.7" cy="122.3" r="2.05" fill="#c3819c" stroke="#fff" stroke-width="0.45"/>
<circle cx="519.2" cy="123.0" r="2.05" fill="#c7869e" stroke="#fff" stroke-width="0.45"/>
<circle cx="515.5" cy="126.5" r="2.05" fill="#c3819c" stroke="#fff" stroke-width="0.45"/>
<circle cx="512.9" cy="125.9" r="2.05" fill="#955786" stroke="#fff" stroke-width="0.45"/>
<circle cx="499.3" cy="116.2" r="2.05" fill="#9e5e8a" stroke="#fff" stroke-width="0.45"/>
<circle cx="516.0" cy="132.7" r="2.05" fill="#c6859d" stroke="#fff" stroke-width="0.45"/>
<circle cx="476.0" cy="161.2" r="2.05" fill="#7e497a" stroke="#fff" stroke-width="0.45"/>
<circle cx="540.9" cy="99.8" r="2.05" fill="#945785" stroke="#fff" stroke-width="0.45"/>
<circle cx="519.3" cy="118.0" r="2.05" fill="#c7869e" stroke="#fff" stroke-width="0.45"/>
<circle cx="487.7" cy="154.5" r="2.05" fill="#aa688f" stroke="#fff" stroke-width="0.45"/>
<circle cx="493.9" cy="114.5" r="2.05" fill="#8a5081" stroke="#fff" stroke-width="0.45"/>
<circle cx="437.6" cy="154.3" r="2.05" fill="#794678" stroke="#fff" stroke-width="0.45"/>
<circle cx="511.9" cy="134.4" r="2.05" fill="#c17e9a" stroke="#fff" stroke-width="0.45"/>
<circle cx="496.6" cy="144.4" r="2.05" fill="#ce8fa2" stroke="#fff" stroke-width="0.45"/>
<circle cx="555.3" cy="178.5" r="2.05" fill="#533260" stroke="#fff" stroke-width="0.45"/>
<circle cx="531.9" cy="136.2" r="2.05" fill="#613969" stroke="#fff" stroke-width="0.45"/>
<circle cx="490.0" cy="128.1" r="2.05" fill="#bf7c99" stroke="#fff" stroke-width="0.45"/>
<circle cx="487.3" cy="143.1" r="2.05" fill="#c07d99" stroke="#fff" stroke-width="0.45"/>
<circle cx="499.5" cy="136.5" r="2.05" fill="#cf90a2" stroke="#fff" stroke-width="0.45"/>
<circle cx="493.9" cy="130.7" r="2.05" fill="#c27f9a" stroke="#fff" stroke-width="0.45"/>
<circle cx="451.9" cy="188.6" r="2.05" fill="#613969" stroke="#fff" stroke-width="0.45"/>
<circle cx="467.5" cy="164.7" r="2.05" fill="#995a88" stroke="#fff" stroke-width="0.45"/>
<circle cx="504.3" cy="142.7" r="2.05" fill="#ae6b91" stroke="#fff" stroke-width="0.45"/>
<circle cx="519.1" cy="122.8" r="2.05" fill="#b97596" stroke="#fff" stroke-width="0.45"/>
<circle cx="525.4" cy="111.8" r="2.05" fill="#d093a4" stroke="#fff" stroke-width="0.45"/>
<circle cx="494.0" cy="136.2" r="2.05" fill="#bd7a98" stroke="#fff" stroke-width="0.45"/>
<circle cx="494.3" cy="132.1" r="2.05" fill="#b57294" stroke="#fff" stroke-width="0.45"/>
<circle cx="474.7" cy="149.3" r="2.05" fill="#b57294" stroke="#fff" stroke-width="0.45"/>
<circle cx="484.3" cy="134.1" r="2.05" fill="#d093a4" stroke="#fff" stroke-width="0.45"/>
<circle cx="475.9" cy="151.1" r="2.05" fill="#a2618c" stroke="#fff" stroke-width="0.45"/>
<circle cx="500.9" cy="123.5" r="2.05" fill="#bf7c99" stroke="#fff" stroke-width="0.45"/>
<circle cx="480.9" cy="148.2" r="2.05" fill="#ddaab0" stroke="#fff" stroke-width="0.45"/>
<circle cx="489.1" cy="133.3" r="2.05" fill="#cc8da1" stroke="#fff" stroke-width="0.45"/>
<circle cx="466.9" cy="149.2" r="2.05" fill="#c2809b" stroke="#fff" stroke-width="0.45"/>
<circle cx="486.9" cy="142.3" r="2.05" fill="#ce8fa2" stroke="#fff" stroke-width="0.45"/>
<circle cx="480.8" cy="149.8" r="2.05" fill="#995a88" stroke="#fff" stroke-width="0.45"/>
<circle cx="456.0" cy="176.2" r="2.05" fill="#6f4172" stroke="#fff" stroke-width="0.45"/>
<circle cx="504.8" cy="131.6" r="2.05" fill="#c8879e" stroke="#fff" stroke-width="0.45"/>
<circle cx="484.1" cy="151.0" r="2.05" fill="#bf7c99" stroke="#fff" stroke-width="0.45"/>
<circle cx="503.5" cy="167.6" r="2.05" fill="#a9678f" stroke="#fff" stroke-width="0.45"/>
<circle cx="479.7" cy="129.9" r="2.05" fill="#4b2e59" stroke="#fff" stroke-width="0.45"/>
<circle cx="447.7" cy="180.2" r="2.05" fill="#794678" stroke="#fff" stroke-width="0.45"/>
<circle cx="478.4" cy="142.5" r="2.05" fill="#cc8da1" stroke="#fff" stroke-width="0.45"/>
<circle cx="487.1" cy="122.0" r="2.05" fill="#814a7c" stroke="#fff" stroke-width="0.45"/>
<circle cx="499.7" cy="145.8" r="2.05" fill="#a9678f" stroke="#fff" stroke-width="0.45"/>
<circle cx="509.5" cy="134.4" r="2.05" fill="#daa4ac" stroke="#fff" stroke-width="0.45"/>
<circle cx="488.5" cy="148.8" r="2.05" fill="#c7869e" stroke="#fff" stroke-width="0.45"/>
<circle cx="516.2" cy="127.2" r="2.05" fill="#cc8da1" stroke="#fff" stroke-width="0.45"/>
<circle cx="480.0" cy="132.2" r="2.05" fill="#b16e92" stroke="#fff" stroke-width="0.45"/>
<circle cx="497.7" cy="132.0" r="2.05" fill="#ca899f" stroke="#fff" stroke-width="0.45"/>
<circle cx="473.5" cy="156.1" r="2.05" fill="#965886" stroke="#fff" stroke-width="0.45"/>
<circle cx="535.5" cy="110.1" r="2.05" fill="#945785" stroke="#fff" stroke-width="0.45"/>
<circle cx="475.7" cy="106.9" r="2.05" fill="#754475" stroke="#fff" stroke-width="0.45"/>
<circle cx="515.0" cy="153.5" r="2.05" fill="#c6859d" stroke="#fff" stroke-width="0.45"/>
<circle cx="471.1" cy="117.9" r="2.05" fill="#c9889f" stroke="#fff" stroke-width="0.45"/>
<circle cx="466.7" cy="163.7" r="2.05" fill="#b16e92" stroke="#fff" stroke-width="0.45"/>
<circle cx="507.4" cy="130.0" r="2.05" fill="#c9889f" stroke="#fff" stroke-width="0.45"/>
<circle cx="454.8" cy="146.3" r="2.05" fill="#8d5282" stroke="#fff" stroke-width="0.45"/>
<circle cx="502.7" cy="119.1" r="2.05" fill="#cc8da1" stroke="#fff" stroke-width="0.45"/>
<circle cx="540.9" cy="146.8" r="2.05" fill="#533260" stroke="#fff" stroke-width="0.45"/>
<circle cx="481.4" cy="135.1" r="2.05" fill="#c17e9a" stroke="#fff" stroke-width="0.45"/>
<circle cx="566.8" cy="110.1" r="2.05" fill="#8e5383" stroke="#fff" stroke-width="0.45"/>
<circle cx="487.8" cy="122.2" r="2.05" fill="#a7658e" stroke="#fff" stroke-width="0.45"/>
<circle cx="491.3" cy="97.1" r="2.05" fill="#7f497b" stroke="#fff" stroke-width="0.45"/>
<circle cx="499.6" cy="131.9" r="2.05" fill="#dfacb1" stroke="#fff" stroke-width="0.45"/>
<circle cx="480.4" cy="136.8" r="2.05" fill="#d59aa7" stroke="#fff" stroke-width="0.45"/>
<circle cx="480.3" cy="153.5" r="2.05" fill="#834c7d" stroke="#fff" stroke-width="0.45"/>
<circle cx="456.5" cy="164.5" r="2.05" fill="#8e5383" stroke="#fff" stroke-width="0.45"/>
<circle cx="438.6" cy="181.6" r="2.05" fill="#834c7d" stroke="#fff" stroke-width="0.45"/>
<circle cx="456.8" cy="166.8" r="2.05" fill="#7c4879" stroke="#fff" stroke-width="0.45"/>
<circle cx="467.6" cy="166.6" r="2.05" fill="#965886" stroke="#fff" stroke-width="0.45"/>
<circle cx="503.4" cy="140.3" r="2.05" fill="#b06d92" stroke="#fff" stroke-width="0.45"/>
<circle cx="492.8" cy="129.0" r="2.05" fill="#ca899f" stroke="#fff" stroke-width="0.45"/>
<circle cx="495.6" cy="129.2" r="2.05" fill="#cf90a2" stroke="#fff" stroke-width="0.45"/>
<circle cx="501.0" cy="130.5" r="2.05" fill="#d295a5" stroke="#fff" stroke-width="0.45"/>
<circle cx="459.6" cy="191.5" r="2.05" fill="#6c3f70" stroke="#fff" stroke-width="0.45"/>
<circle cx="520.7" cy="111.1" r="2.05" fill="#945785" stroke="#fff" stroke-width="0.45"/>
<circle cx="480.1" cy="159.6" r="2.05" fill="#a8668e" stroke="#fff" stroke-width="0.45"/>
<circle cx="559.9" cy="109.5" r="2.05" fill="#945785" stroke="#fff" stroke-width="0.45"/>
<circle cx="500.5" cy="137.6" r="2.05" fill="#c8879e" stroke="#fff" stroke-width="0.45"/>
<circle cx="462.0" cy="153.9" r="2.05" fill="#905483" stroke="#fff" stroke-width="0.45"/>
<circle cx="511.4" cy="134.7" r="2.05" fill="#bd7a98" stroke="#fff" stroke-width="0.45"/>
<circle cx="495.0" cy="128.7" r="2.05" fill="#d396a5" stroke="#fff" stroke-width="0.45"/>
<circle cx="486.4" cy="126.1" r="2.05" fill="#6f4172" stroke="#fff" stroke-width="0.45"/>
<circle cx="517.0" cy="125.3" r="2.05" fill="#af6c91" stroke="#fff" stroke-width="0.45"/>
<circle cx="532.3" cy="112.3" r="2.05" fill="#c6859d" stroke="#fff" stroke-width="0.45"/>
<circle cx="510.5" cy="133.5" r="2.05" fill="#d69ca8" stroke="#fff" stroke-width="0.45"/>
<circle cx="483.0" cy="137.4" r="2.05" fill="#d093a4" stroke="#fff" stroke-width="0.45"/>
<circle cx="486.0" cy="138.9" r="2.05" fill="#d79ea9" stroke="#fff" stroke-width="0.45"/>
<circle cx="444.9" cy="181.7" r="2.05" fill="#683d6e" stroke="#fff" stroke-width="0.45"/>
<circle cx="489.2" cy="146.5" r="2.05" fill="#cc8da1" stroke="#fff" stroke-width="0.45"/>
<circle cx="469.1" cy="185.9" r="2.05" fill="#894f80" stroke="#fff" stroke-width="0.45"/>
<circle cx="504.1" cy="138.3" r="2.05" fill="#c07d99" stroke="#fff" stroke-width="0.45"/>
<circle cx="452.0" cy="175.0" r="2.05" fill="#6c3f70" stroke="#fff" stroke-width="0.45"/>
<circle cx="511.1" cy="115.6" r="2.05" fill="#8c5181" stroke="#fff" stroke-width="0.45"/>
<circle cx="487.0" cy="122.3" r="2.05" fill="#814a7c" stroke="#fff" stroke-width="0.45"/>
<circle cx="514.4" cy="132.4" r="2.05" fill="#915584" stroke="#fff" stroke-width="0.45"/>
<circle cx="514.2" cy="144.2" r="2.05" fill="#b37093" stroke="#fff" stroke-width="0.45"/>
<circle cx="531.5" cy="173.0" r="2.05" fill="#533260" stroke="#fff" stroke-width="0.45"/>
<circle cx="492.4" cy="130.3" r="2.05" fill="#d093a4" stroke="#fff" stroke-width="0.45"/>
<circle cx="534.5" cy="106.9" r="2.05" fill="#945785" stroke="#fff" stroke-width="0.45"/>
<circle cx="513.4" cy="132.2" r="2.05" fill="#c27f9a" stroke="#fff" stroke-width="0.45"/>
<circle cx="478.8" cy="164.0" r="2.05" fill="#905483" stroke="#fff" stroke-width="0.45"/>
<circle cx="461.4" cy="187.2" r="2.05" fill="#533260" stroke="#fff" stroke-width="0.45"/>
<circle cx="490.6" cy="130.1" r="2.05" fill="#cf91a3" stroke="#fff" stroke-width="0.45"/>
<circle cx="504.2" cy="150.4" r="2.05" fill="#613969" stroke="#fff" stroke-width="0.45"/>
<circle cx="506.7" cy="136.4" r="2.05" fill="#d397a6" stroke="#fff" stroke-width="0.45"/>
<circle cx="512.2" cy="165.0" r="2.05" fill="#c6859d" stroke="#fff" stroke-width="0.45"/>
<circle cx="507.1" cy="123.1" r="2.05" fill="#c27f9a" stroke="#fff" stroke-width="0.45"/>
<circle cx="476.3" cy="215.4" r="2.05" fill="#c17e9a" stroke="#fff" stroke-width="0.45"/>
<circle cx="467.5" cy="136.0" r="2.05" fill="#724274" stroke="#fff" stroke-width="0.45"/>
<circle cx="441.3" cy="213.8" r="2.05" fill="#402850" stroke="#fff" stroke-width="0.45"/>
<circle cx="468.5" cy="142.5" r="2.05" fill="#965886" stroke="#fff" stroke-width="0.45"/>
<circle cx="509.0" cy="102.0" r="2.05" fill="#864e7e" stroke="#fff" stroke-width="0.45"/>
<circle cx="505.9" cy="109.9" r="2.05" fill="#915584" stroke="#fff" stroke-width="0.45"/>
<circle cx="490.3" cy="144.5" r="2.05" fill="#7c4879" stroke="#fff" stroke-width="0.45"/>
<circle cx="489.9" cy="126.6" r="2.05" fill="#cd8ea1" stroke="#fff" stroke-width="0.45"/>
<circle cx="454.8" cy="149.3" r="2.05" fill="#915584" stroke="#fff" stroke-width="0.45"/>
<circle cx="509.0" cy="131.8" r="2.05" fill="#bd7a98" stroke="#fff" stroke-width="0.45"/>
<circle cx="480.9" cy="162.8" r="2.05" fill="#593564" stroke="#fff" stroke-width="0.45"/>
<circle cx="511.1" cy="120.1" r="2.05" fill="#9b5c89" stroke="#fff" stroke-width="0.45"/>
<circle cx="500.6" cy="146.3" r="2.05" fill="#b16e92" stroke="#fff" stroke-width="0.45"/>
<circle cx="500.6" cy="105.7" r="2.05" fill="#724274" stroke="#fff" stroke-width="0.45"/>
<circle cx="456.4" cy="159.9" r="2.05" fill="#925684" stroke="#fff" stroke-width="0.45"/>
<circle cx="464.2" cy="143.8" r="2.05" fill="#864e7e" stroke="#fff" stroke-width="0.45"/>
<circle cx="504.9" cy="117.2" r="2.05" fill="#b06d92" stroke="#fff" stroke-width="0.45"/>
<circle cx="461.0" cy="168.9" r="2.05" fill="#653b6c" stroke="#fff" stroke-width="0.45"/>
<circle cx="486.1" cy="140.3" r="2.05" fill="#d397a6" stroke="#fff" stroke-width="0.45"/>
<circle cx="513.8" cy="122.3" r="2.05" fill="#cc8da1" stroke="#fff" stroke-width="0.45"/>
<circle cx="460.2" cy="182.0" r="2.05" fill="#824b7c" stroke="#fff" stroke-width="0.45"/>
<circle cx="486.5" cy="141.7" r="2.05" fill="#c27f9a" stroke="#fff" stroke-width="0.45"/>
<circle cx="469.8" cy="177.8" r="2.05" fill="#774576" stroke="#fff" stroke-width="0.45"/>
<circle cx="482.1" cy="142.1" r="2.05" fill="#daa4ac" stroke="#fff" stroke-width="0.45"/>
<circle cx="499.5" cy="114.4" r="2.05" fill="#925684" stroke="#fff" stroke-width="0.45"/>
<circle cx="493.8" cy="136.4" r="2.05" fill="#be7b98" stroke="#fff" stroke-width="0.45"/>
<circle cx="503.6" cy="126.7" r="2.05" fill="#d295a5" stroke="#fff" stroke-width="0.45"/>
<circle cx="489.0" cy="151.2" r="2.05" fill="#c07d99" stroke="#fff" stroke-width="0.45"/>
<circle cx="485.9" cy="121.3" r="2.05" fill="#c9889f" stroke="#fff" stroke-width="0.45"/>
<circle cx="445.2" cy="172.9" r="2.05" fill="#965886" stroke="#fff" stroke-width="0.45"/>
<circle cx="487.2" cy="133.6" r="2.05" fill="#c27f9a" stroke="#fff" stroke-width="0.45"/>
<circle cx="508.1" cy="153.5" r="2.05" fill="#c6859d" stroke="#fff" stroke-width="0.45"/>
<circle cx="523.2" cy="141.5" r="2.05" fill="#c6859d" stroke="#fff" stroke-width="0.45"/>
<circle cx="459.2" cy="166.5" r="2.05" fill="#8a5081" stroke="#fff" stroke-width="0.45"/>
<circle cx="516.7" cy="131.8" r="2.05" fill="#b06d92" stroke="#fff" stroke-width="0.45"/>
<circle cx="551.2" cy="172.7" r="2.05" fill="#533260" stroke="#fff" stroke-width="0.45"/>
<circle cx="485.2" cy="127.9" r="2.05" fill="#965886" stroke="#fff" stroke-width="0.45"/>
<circle cx="459.8" cy="186.3" r="2.05" fill="#8d5282" stroke="#fff" stroke-width="0.45"/>
<circle cx="515.1" cy="114.1" r="2.05" fill="#cb8aa0" stroke="#fff" stroke-width="0.45"/>
<circle cx="506.4" cy="136.0" r="2.05" fill="#774576" stroke="#fff" stroke-width="0.45"/>
<circle cx="455.0" cy="145.1" r="2.05" fill="#774576" stroke="#fff" stroke-width="0.45"/>
<circle cx="489.4" cy="123.7" r="2.05" fill="#905483" stroke="#fff" stroke-width="0.45"/>
<circle cx="478.4" cy="128.0" r="2.05" fill="#864e7e" stroke="#fff" stroke-width="0.45"/>
<circle cx="439.9" cy="233.1" r="2.05" fill="#382449" stroke="#fff" stroke-width="0.45"/>
<circle cx="511.0" cy="117.3" r="2.05" fill="#b47194" stroke="#fff" stroke-width="0.45"/>
<circle cx="527.8" cy="171.5" r="2.05" fill="#533260" stroke="#fff" stroke-width="0.45"/>
<circle cx="490.9" cy="128.7" r="2.05" fill="#dca6ae" stroke="#fff" stroke-width="0.45"/>
<circle cx="489.0" cy="123.6" r="2.05" fill="#c27f9a" stroke="#fff" stroke-width="0.45"/>
<circle cx="523.5" cy="172.2" r="2.05" fill="#533260" stroke="#fff" stroke-width="0.45"/>
<circle cx="471.6" cy="140.1" r="2.05" fill="#3b264b" stroke="#fff" stroke-width="0.45"/>
<circle cx="474.3" cy="138.0" r="2.05" fill="#b37093" stroke="#fff" stroke-width="0.45"/>
<circle cx="476.7" cy="139.0" r="2.05" fill="#c8879e" stroke="#fff" stroke-width="0.45"/>
<circle cx="543.7" cy="98.3" r="2.05" fill="#945785" stroke="#fff" stroke-width="0.45"/>
<circle cx="481.4" cy="159.3" r="2.05" fill="#7b4779" stroke="#fff" stroke-width="0.45"/>
<circle cx="462.0" cy="182.2" r="2.05" fill="#864e7e" stroke="#fff" stroke-width="0.45"/>
<circle cx="437.4" cy="173.4" r="2.05" fill="#955786" stroke="#fff" stroke-width="0.45"/>
<circle cx="557.1" cy="146.3" r="2.05" fill="#945785" stroke="#fff" stroke-width="0.45"/>
<circle cx="486.6" cy="124.4" r="2.05" fill="#422952" stroke="#fff" stroke-width="0.45"/>
<circle cx="476.4" cy="155.9" r="2.05" fill="#b67395" stroke="#fff" stroke-width="0.45"/>
<circle cx="509.5" cy="136.4" r="2.05" fill="#a9678f" stroke="#fff" stroke-width="0.45"/>
<circle cx="545.9" cy="103.3" r="2.05" fill="#945785" stroke="#fff" stroke-width="0.45"/>
<circle cx="443.4" cy="161.3" r="2.05" fill="#794678" stroke="#fff" stroke-width="0.45"/>
<circle cx="493.5" cy="137.7" r="2.05" fill="#daa4ac" stroke="#fff" stroke-width="0.45"/>
<circle cx="511.7" cy="114.4" r="2.05" fill="#af6c91" stroke="#fff" stroke-width="0.45"/>
<circle cx="494.7" cy="122.4" r="2.05" fill="#d295a5" stroke="#fff" stroke-width="0.45"/>
<circle cx="489.7" cy="148.7" r="2.05" fill="#c9889f" stroke="#fff" stroke-width="0.45"/>
<circle cx="486.7" cy="145.0" r="2.05" fill="#c17e9a" stroke="#fff" stroke-width="0.45"/>
<circle cx="512.5" cy="111.9" r="2.05" fill="#ce8fa2" stroke="#fff" stroke-width="0.45"/>
<circle cx="443.0" cy="165.9" r="2.05" fill="#6f4172" stroke="#fff" stroke-width="0.45"/>
<circle cx="511.3" cy="117.6" r="2.05" fill="#ae6b91" stroke="#fff" stroke-width="0.45"/>
<circle cx="446.6" cy="176.7" r="2.05" fill="#683d6e" stroke="#fff" stroke-width="0.45"/>
<circle cx="502.2" cy="142.0" r="2.05" fill="#ae6b91" stroke="#fff" stroke-width="0.45"/>
<circle cx="507.1" cy="125.2" r="2.05" fill="#cb8aa0" stroke="#fff" stroke-width="0.45"/>
<circle cx="493.2" cy="132.1" r="2.05" fill="#ce8fa2" stroke="#fff" stroke-width="0.45"/>
<circle cx="480.6" cy="153.3" r="2.05" fill="#a1608b" stroke="#fff" stroke-width="0.45"/>
<circle cx="457.0" cy="195.1" r="2.05" fill="#c17e9a" stroke="#fff" stroke-width="0.45"/>
<circle cx="485.2" cy="128.1" r="2.05" fill="#985987" stroke="#fff" stroke-width="0.45"/>
<circle cx="511.8" cy="121.3" r="2.05" fill="#bd7a98" stroke="#fff" stroke-width="0.45"/>
<circle cx="478.5" cy="149.7" r="2.05" fill="#925684" stroke="#fff" stroke-width="0.45"/>
<circle cx="513.1" cy="121.3" r="2.05" fill="#ca899f" stroke="#fff" stroke-width="0.45"/>
<circle cx="477.9" cy="139.7" r="2.05" fill="#c27f9a" stroke="#fff" stroke-width="0.45"/>
<circle cx="433.0" cy="140.8" r="2.05" fill="#533260" stroke="#fff" stroke-width="0.45"/>
<circle cx="560.9" cy="95.1" r="2.05" fill="#8e5383" stroke="#fff" stroke-width="0.45"/>
<circle cx="439.4" cy="155.7" r="2.05" fill="#794678" stroke="#fff" stroke-width="0.45"/>
<circle cx="462.1" cy="169.4" r="2.05" fill="#814a7c" stroke="#fff" stroke-width="0.45"/>
<circle cx="496.2" cy="134.7" r="2.05" fill="#bf7c99" stroke="#fff" stroke-width="0.45"/>
<circle cx="508.0" cy="108.3" r="2.05" fill="#774576" stroke="#fff" stroke-width="0.45"/>
<circle cx="493.8" cy="137.5" r="2.05" fill="#d093a4" stroke="#fff" stroke-width="0.45"/>
<circle cx="482.2" cy="140.3" r="2.05" fill="#cc8da1" stroke="#fff" stroke-width="0.45"/>
<circle cx="495.6" cy="131.5" r="2.05" fill="#c3819c" stroke="#fff" stroke-width="0.45"/>
<circle cx="477.5" cy="140.3" r="2.05" fill="#ca899f" stroke="#fff" stroke-width="0.45"/>
<circle cx="457.1" cy="194.9" r="2.05" fill="#c6859d" stroke="#fff" stroke-width="0.45"/>
<circle cx="472.9" cy="143.2" r="2.05" fill="#a5648d" stroke="#fff" stroke-width="0.45"/>
<circle cx="448.3" cy="174.4" r="2.05" fill="#8e5383" stroke="#fff" stroke-width="0.45"/>
<circle cx="479.1" cy="142.1" r="2.05" fill="#bd7a98" stroke="#fff" stroke-width="0.45"/>
<circle cx="450.9" cy="177.1" r="2.05" fill="#5b3665" stroke="#fff" stroke-width="0.45"/>
<circle cx="497.4" cy="140.5" r="2.05" fill="#d093a4" stroke="#fff" stroke-width="0.45"/>
<circle cx="457.3" cy="168.3" r="2.05" fill="#563362" stroke="#fff" stroke-width="0.45"/>
<circle cx="500.2" cy="127.6" r="2.05" fill="#cf90a2" stroke="#fff" stroke-width="0.45"/>
<circle cx="447.5" cy="188.7" r="2.05" fill="#8d5282" stroke="#fff" stroke-width="0.45"/>
<circle cx="493.5" cy="116.1" r="2.05" fill="#693d6f" stroke="#fff" stroke-width="0.45"/>
<circle cx="505.4" cy="134.7" r="2.05" fill="#ca899f" stroke="#fff" stroke-width="0.45"/>
<circle cx="460.1" cy="154.4" r="2.05" fill="#834c7d" stroke="#fff" stroke-width="0.45"/>
<circle cx="510.1" cy="136.5" r="2.05" fill="#5e3767" stroke="#fff" stroke-width="0.45"/>
<circle cx="462.1" cy="190.2" r="2.05" fill="#563362" stroke="#fff" stroke-width="0.45"/>
<circle cx="512.5" cy="135.1" r="2.05" fill="#ac6a90" stroke="#fff" stroke-width="0.45"/>
<circle cx="473.3" cy="137.1" r="2.05" fill="#4b2e59" stroke="#fff" stroke-width="0.45"/>
<circle cx="485.2" cy="146.4" r="2.05" fill="#c2809b" stroke="#fff" stroke-width="0.45"/>
<circle cx="483.6" cy="153.9" r="2.05" fill="#945785" stroke="#fff" stroke-width="0.45"/>
<circle cx="456.2" cy="187.4" r="2.05" fill="#864e7e" stroke="#fff" stroke-width="0.45"/>
<circle cx="504.0" cy="128.6" r="2.05" fill="#cc8da1" stroke="#fff" stroke-width="0.45"/>
<circle cx="498.7" cy="147.3" r="2.05" fill="#a1608b" stroke="#fff" stroke-width="0.45"/>
<circle cx="484.4" cy="157.7" r="2.05" fill="#945785" stroke="#fff" stroke-width="0.45"/>
<circle cx="486.0" cy="154.0" r="2.05" fill="#c27f9a" stroke="#fff" stroke-width="0.45"/>
<circle cx="465.5" cy="158.1" r="2.05" fill="#a2618c" stroke="#fff" stroke-width="0.45"/>
<circle cx="532.7" cy="103.5" r="2.05" fill="#955786" stroke="#fff" stroke-width="0.45"/>
<circle cx="474.0" cy="185.6" r="2.05" fill="#c6859d" stroke="#fff" stroke-width="0.45"/>
<circle cx="523.6" cy="114.6" r="2.05" fill="#c6859d" stroke="#fff" stroke-width="0.45"/>
<circle cx="496.2" cy="130.0" r="2.05" fill="#915584" stroke="#fff" stroke-width="0.45"/>
<circle cx="446.8" cy="169.4" r="2.05" fill="#794678" stroke="#fff" stroke-width="0.45"/>
<circle cx="466.0" cy="146.8" r="2.05" fill="#894f80" stroke="#fff" stroke-width="0.45"/>
<circle cx="441.9" cy="180.0" r="2.05" fill="#894f80" stroke="#fff" stroke-width="0.45"/>
<circle cx="485.5" cy="153.4" r="2.05" fill="#d59ba8" stroke="#fff" stroke-width="0.45"/>
<circle cx="540.8" cy="157.0" r="2.05" fill="#794678" stroke="#fff" stroke-width="0.45"/>
<circle cx="483.7" cy="125.8" r="2.05" fill="#ba7696" stroke="#fff" stroke-width="0.45"/>
<circle cx="469.9" cy="144.0" r="2.05" fill="#8c5181" stroke="#fff" stroke-width="0.45"/>
<circle cx="501.1" cy="138.3" r="2.05" fill="#9a5b88" stroke="#fff" stroke-width="0.45"/>
<circle cx="488.9" cy="140.7" r="2.05" fill="#b57294" stroke="#fff" stroke-width="0.45"/>
<circle cx="563.5" cy="110.1" r="2.05" fill="#8e5383" stroke="#fff" stroke-width="0.45"/>
<circle cx="557.1" cy="101.5" r="2.05" fill="#945785" stroke="#fff" stroke-width="0.45"/>
<circle cx="481.6" cy="100.2" r="2.05" fill="#7f497b" stroke="#fff" stroke-width="0.45"/>
<circle cx="437.5" cy="181.3" r="2.05" fill="#683d6e" stroke="#fff" stroke-width="0.45"/>
<circle cx="516.7" cy="107.4" r="2.05" fill="#714173" stroke="#fff" stroke-width="0.45"/>
<circle cx="447.7" cy="163.1" r="2.05" fill="#8d5282" stroke="#fff" stroke-width="0.45"/>
<circle cx="467.5" cy="146.2" r="2.05" fill="#ba7696" stroke="#fff" stroke-width="0.45"/>
<circle cx="508.2" cy="126.4" r="2.05" fill="#bc7897" stroke="#fff" stroke-width="0.45"/>
<circle cx="501.7" cy="140.0" r="2.05" fill="#ca899f" stroke="#fff" stroke-width="0.45"/>
<circle cx="497.5" cy="140.8" r="2.05" fill="#d8a0aa" stroke="#fff" stroke-width="0.45"/>
<circle cx="535.3" cy="169.2" r="2.05" fill="#ce8fa2" stroke="#fff" stroke-width="0.45"/>
<circle cx="483.6" cy="154.3" r="2.05" fill="#b57294" stroke="#fff" stroke-width="0.45"/>
<circle cx="472.7" cy="136.7" r="2.05" fill="#6f4172" stroke="#fff" stroke-width="0.45"/>
<circle cx="507.3" cy="126.1" r="2.05" fill="#d59aa7" stroke="#fff" stroke-width="0.45"/>
<circle cx="500.3" cy="126.4" r="2.05" fill="#d397a6" stroke="#fff" stroke-width="0.45"/>
<circle cx="493.1" cy="119.1" r="2.05" fill="#ab6990" stroke="#fff" stroke-width="0.45"/>
<circle cx="495.3" cy="124.9" r="2.05" fill="#d396a5" stroke="#fff" stroke-width="0.45"/>
<circle cx="496.7" cy="124.6" r="2.05" fill="#c8879e" stroke="#fff" stroke-width="0.45"/>
<circle cx="505.0" cy="107.3" r="2.05" fill="#794678" stroke="#fff" stroke-width="0.45"/>
<circle cx="468.1" cy="159.0" r="2.05" fill="#a8668e" stroke="#fff" stroke-width="0.45"/>
<circle cx="472.9" cy="138.4" r="2.05" fill="#8e5383" stroke="#fff" stroke-width="0.45"/>
<circle cx="510.1" cy="123.2" r="2.05" fill="#c6859d" stroke="#fff" stroke-width="0.45"/>
<circle cx="527.0" cy="108.6" r="2.05" fill="#c3819c" stroke="#fff" stroke-width="0.45"/>
<circle cx="479.6" cy="141.9" r="2.05" fill="#d59ba8" stroke="#fff" stroke-width="0.45"/>
<circle cx="484.5" cy="156.7" r="2.05" fill="#5f3868" stroke="#fff" stroke-width="0.45"/>
<circle cx="507.3" cy="136.1" r="2.05" fill="#d59aa7" stroke="#fff" stroke-width="0.45"/>
<circle cx="457.6" cy="174.2" r="2.05" fill="#b77495" stroke="#fff" stroke-width="0.45"/>
<circle cx="485.4" cy="121.1" r="2.05" fill="#c9889f" stroke="#fff" stroke-width="0.45"/>
<circle cx="478.8" cy="144.8" r="2.05" fill="#d397a6" stroke="#fff" stroke-width="0.45"/>
<circle cx="441.6" cy="169.0" r="2.05" fill="#784577" stroke="#fff" stroke-width="0.45"/>
<circle cx="532.1" cy="108.8" r="2.05" fill="#945785" stroke="#fff" stroke-width="0.45"/>
<circle cx="513.5" cy="118.5" r="2.05" fill="#b06d92" stroke="#fff" stroke-width="0.45"/>
<circle cx="484.8" cy="144.2" r="2.05" fill="#d194a4" stroke="#fff" stroke-width="0.45"/>
<circle cx="496.8" cy="102.6" r="2.05" fill="#794678" stroke="#fff" stroke-width="0.45"/>
<circle cx="453.8" cy="170.0" r="2.05" fill="#754475" stroke="#fff" stroke-width="0.45"/>
<circle cx="498.8" cy="116.8" r="2.05" fill="#b37093" stroke="#fff" stroke-width="0.45"/>
<circle cx="490.7" cy="150.7" r="2.05" fill="#c8879e" stroke="#fff" stroke-width="0.45"/>
<circle cx="498.5" cy="122.1" r="2.05" fill="#d194a4" stroke="#fff" stroke-width="0.45"/>
<circle cx="518.1" cy="128.2" r="2.05" fill="#a3628c" stroke="#fff" stroke-width="0.45"/>
<circle cx="458.0" cy="153.6" r="2.05" fill="#854d7e" stroke="#fff" stroke-width="0.45"/>
<circle cx="512.9" cy="119.5" r="2.05" fill="#be7b98" stroke="#fff" stroke-width="0.45"/>
<circle cx="457.5" cy="169.4" r="2.05" fill="#834c7d" stroke="#fff" stroke-width="0.45"/>
<circle cx="474.6" cy="157.2" r="2.05" fill="#a1608b" stroke="#fff" stroke-width="0.45"/>
<circle cx="479.8" cy="146.3" r="2.05" fill="#bb7797" stroke="#fff" stroke-width="0.45"/>
<circle cx="442.5" cy="166.9" r="2.05" fill="#744375" stroke="#fff" stroke-width="0.45"/>
<circle cx="476.5" cy="143.7" r="2.05" fill="#d8a0aa" stroke="#fff" stroke-width="0.45"/>
<circle cx="485.4" cy="143.7" r="2.05" fill="#c8879e" stroke="#fff" stroke-width="0.45"/>
<circle cx="489.3" cy="125.1" r="2.05" fill="#884f7f" stroke="#fff" stroke-width="0.45"/>
<circle cx="479.2" cy="143.3" r="2.05" fill="#ce8fa2" stroke="#fff" stroke-width="0.45"/>
<circle cx="483.9" cy="160.0" r="2.05" fill="#62396a" stroke="#fff" stroke-width="0.45"/>
<circle cx="508.4" cy="109.8" r="2.05" fill="#774576" stroke="#fff" stroke-width="0.45"/>
<circle cx="442.6" cy="161.7" r="2.05" fill="#905483" stroke="#fff" stroke-width="0.45"/>
<circle cx="470.0" cy="141.6" r="2.05" fill="#422952" stroke="#fff" stroke-width="0.45"/>
<circle cx="505.3" cy="125.8" r="2.05" fill="#ce8fa2" stroke="#fff" stroke-width="0.45"/>
<circle cx="507.8" cy="135.5" r="2.05" fill="#d79ea9" stroke="#fff" stroke-width="0.45"/>
<circle cx="508.3" cy="136.1" r="2.05" fill="#cd8ea1" stroke="#fff" stroke-width="0.45"/>
<circle cx="477.0" cy="139.6" r="2.05" fill="#d093a4" stroke="#fff" stroke-width="0.45"/>
<circle cx="472.9" cy="142.4" r="2.05" fill="#834c7d" stroke="#fff" stroke-width="0.45"/>
<circle cx="463.5" cy="185.7" r="2.05" fill="#683d6e" stroke="#fff" stroke-width="0.45"/>
<circle cx="477.6" cy="149.7" r="2.05" fill="#aa688f" stroke="#fff" stroke-width="0.45"/>
<circle cx="440.7" cy="221.9" r="2.05" fill="#382449" stroke="#fff" stroke-width="0.45"/>
<circle cx="467.7" cy="139.8" r="2.05" fill="#643a6b" stroke="#fff" stroke-width="0.45"/>
<circle cx="440.9" cy="229.7" r="2.05" fill="#382449" stroke="#fff" stroke-width="0.45"/>
<circle cx="483.0" cy="143.7" r="2.05" fill="#b37093" stroke="#fff" stroke-width="0.45"/>
<circle cx="476.8" cy="140.4" r="2.05" fill="#d093a4" stroke="#fff" stroke-width="0.45"/>
<circle cx="506.9" cy="132.4" r="2.05" fill="#d397a6" stroke="#fff" stroke-width="0.45"/>
<circle cx="500.5" cy="130.0" r="2.05" fill="#c5849d" stroke="#fff" stroke-width="0.45"/>
<circle cx="485.5" cy="109.8" r="2.05" fill="#c9889f" stroke="#fff" stroke-width="0.45"/>
<circle cx="462.9" cy="153.4" r="2.05" fill="#a2618c" stroke="#fff" stroke-width="0.45"/>
<circle cx="506.9" cy="119.3" r="2.05" fill="#b97596" stroke="#fff" stroke-width="0.45"/>
<circle cx="472.6" cy="158.9" r="2.05" fill="#965886" stroke="#fff" stroke-width="0.45"/>
<circle cx="492.6" cy="138.9" r="2.05" fill="#784577" stroke="#fff" stroke-width="0.45"/>
<circle cx="516.3" cy="119.1" r="2.05" fill="#ce8fa2" stroke="#fff" stroke-width="0.45"/>
<circle cx="468.1" cy="157.5" r="2.05" fill="#b77495" stroke="#fff" stroke-width="0.45"/>
<circle cx="484.8" cy="126.0" r="2.05" fill="#9f5f8a" stroke="#fff" stroke-width="0.45"/>
<circle cx="464.7" cy="190.3" r="2.05" fill="#c6859d" stroke="#fff" stroke-width="0.45"/>
<circle cx="504.0" cy="137.0" r="2.05" fill="#cd8ea1" stroke="#fff" stroke-width="0.45"/>
<circle cx="478.0" cy="140.0" r="2.05" fill="#d396a5" stroke="#fff" stroke-width="0.45"/>
<circle cx="522.7" cy="119.3" r="2.05" fill="#b97596" stroke="#fff" stroke-width="0.45"/>
<circle cx="499.4" cy="136.9" r="2.05" fill="#c3819c" stroke="#fff" stroke-width="0.45"/>
<circle cx="474.5" cy="179.1" r="2.05" fill="#8e5383" stroke="#fff" stroke-width="0.45"/>
<circle cx="518.8" cy="125.6" r="2.05" fill="#c6859d" stroke="#fff" stroke-width="0.45"/>
<circle cx="492.1" cy="144.4" r="2.05" fill="#d397a6" stroke="#fff" stroke-width="0.45"/>
<circle cx="464.8" cy="168.9" r="2.05" fill="#553361" stroke="#fff" stroke-width="0.45"/>
<circle cx="474.6" cy="139.6" r="2.05" fill="#cf91a3" stroke="#fff" stroke-width="0.45"/>
<circle cx="464.7" cy="121.3" r="2.05" fill="#c9889f" stroke="#fff" stroke-width="0.45"/>
<circle cx="466.4" cy="181.0" r="2.05" fill="#905483" stroke="#fff" stroke-width="0.45"/>
<circle cx="491.7" cy="127.5" r="2.05" fill="#d499a7" stroke="#fff" stroke-width="0.45"/>
<circle cx="510.1" cy="100.1" r="2.05" fill="#834c7d" stroke="#fff" stroke-width="0.45"/>
<circle cx="511.3" cy="115.7" r="2.05" fill="#cb8aa0" stroke="#fff" stroke-width="0.45"/>
<circle cx="501.1" cy="143.7" r="2.05" fill="#864e7e" stroke="#fff" stroke-width="0.45"/>
<circle cx="460.5" cy="184.8" r="2.05" fill="#6c3f70" stroke="#fff" stroke-width="0.45"/>
<circle cx="459.2" cy="168.3" r="2.05" fill="#9d5d89" stroke="#fff" stroke-width="0.45"/>
<circle cx="495.3" cy="146.6" r="2.05" fill="#c27f9a" stroke="#fff" stroke-width="0.45"/>
<circle cx="507.1" cy="101.7" r="2.05" fill="#9b5c89" stroke="#fff" stroke-width="0.45"/>
<circle cx="518.8" cy="123.6" r="2.05" fill="#bd7a98" stroke="#fff" stroke-width="0.45"/>
<circle cx="502.4" cy="139.2" r="2.05" fill="#c8879e" stroke="#fff" stroke-width="0.45"/>
<circle cx="462.1" cy="144.7" r="2.05" fill="#995a88" stroke="#fff" stroke-width="0.45"/>
<circle cx="457.7" cy="184.9" r="2.05" fill="#965886" stroke="#fff" stroke-width="0.45"/>
<circle cx="457.7" cy="153.1" r="2.05" fill="#965886" stroke="#fff" stroke-width="0.45"/>
<circle cx="478.0" cy="130.3" r="2.05" fill="#8d5282" stroke="#fff" stroke-width="0.45"/>
<circle cx="466.3" cy="145.0" r="2.05" fill="#653b6c" stroke="#fff" stroke-width="0.45"/>
<circle cx="532.7" cy="148.5" r="2.05" fill="#533260" stroke="#fff" stroke-width="0.45"/>
<circle cx="453.4" cy="190.2" r="2.05" fill="#6f4172" stroke="#fff" stroke-width="0.45"/>
<circle cx="547.6" cy="171.5" r="2.05" fill="#533260" stroke="#fff" stroke-width="0.45"/>
<circle cx="492.4" cy="135.9" r="2.05" fill="#c5849d" stroke="#fff" stroke-width="0.45"/>
<circle cx="516.5" cy="151.2" r="2.05" fill="#c6859d" stroke="#fff" stroke-width="0.45"/>
<circle cx="471.2" cy="117.7" r="2.05" fill="#b37093" stroke="#fff" stroke-width="0.45"/>
<circle cx="495.3" cy="143.7" r="2.05" fill="#c6859d" stroke="#fff" stroke-width="0.45"/>
<circle cx="490.9" cy="139.4" r="2.05" fill="#daa4ac" stroke="#fff" stroke-width="0.45"/>
<circle cx="488.9" cy="126.5" r="2.05" fill="#c5849d" stroke="#fff" stroke-width="0.45"/>
<circle cx="508.1" cy="128.0" r="2.05" fill="#c6859d" stroke="#fff" stroke-width="0.45"/>
<circle cx="527.7" cy="104.6" r="2.05" fill="#b16e92" stroke="#fff" stroke-width="0.45"/>
<circle cx="496.0" cy="173.4" r="2.05" fill="#c6859d" stroke="#fff" stroke-width="0.45"/>
<circle cx="519.4" cy="102.5" r="2.05" fill="#6f4172" stroke="#fff" stroke-width="0.45"/>
<circle cx="491.2" cy="146.0" r="2.05" fill="#d8a0aa" stroke="#fff" stroke-width="0.45"/>
<circle cx="540.9" cy="113.4" r="2.05" fill="#864e7e" stroke="#fff" stroke-width="0.45"/>
<circle cx="492.6" cy="151.7" r="2.05" fill="#9a5b88" stroke="#fff" stroke-width="0.45"/>
<circle cx="505.8" cy="170.4" r="2.05" fill="#e0afb3" stroke="#fff" stroke-width="0.45"/>
<circle cx="511.1" cy="132.1" r="2.05" fill="#d499a7" stroke="#fff" stroke-width="0.45"/>
<circle cx="505.9" cy="104.0" r="2.05" fill="#754475" stroke="#fff" stroke-width="0.45"/>
<circle cx="470.1" cy="149.4" r="2.05" fill="#945785" stroke="#fff" stroke-width="0.45"/>
<circle cx="477.4" cy="141.5" r="2.05" fill="#cf91a3" stroke="#fff" stroke-width="0.45"/>
<circle cx="462.8" cy="151.7" r="2.05" fill="#a8668e" stroke="#fff" stroke-width="0.45"/>
<circle cx="489.7" cy="145.9" r="2.05" fill="#c9889f" stroke="#fff" stroke-width="0.45"/>
<circle cx="439.8" cy="172.5" r="2.05" fill="#5e3767" stroke="#fff" stroke-width="0.45"/>
<circle cx="477.6" cy="137.6" r="2.05" fill="#c7869e" stroke="#fff" stroke-width="0.45"/>
<circle cx="442.9" cy="184.5" r="2.05" fill="#6e4071" stroke="#fff" stroke-width="0.45"/>
<circle cx="460.2" cy="178.5" r="2.05" fill="#643a6b" stroke="#fff" stroke-width="0.45"/>
<circle cx="497.1" cy="148.1" r="2.05" fill="#a5648d" stroke="#fff" stroke-width="0.45"/>
<circle cx="466.2" cy="147.7" r="2.05" fill="#9b5c89" stroke="#fff" stroke-width="0.45"/>
<circle cx="511.1" cy="135.1" r="2.05" fill="#8a5081" stroke="#fff" stroke-width="0.45"/>
<circle cx="465.1" cy="186.8" r="2.05" fill="#613969" stroke="#fff" stroke-width="0.45"/>
<circle cx="544.1" cy="117.0" r="2.05" fill="#c6859d" stroke="#fff" stroke-width="0.45"/>
<circle cx="476.6" cy="136.6" r="2.05" fill="#533260" stroke="#fff" stroke-width="0.45"/>
<circle cx="538.8" cy="126.3" r="2.05" fill="#a9678f" stroke="#fff" stroke-width="0.45"/>
<circle cx="490.1" cy="152.3" r="2.05" fill="#955786" stroke="#fff" stroke-width="0.45"/>
<circle cx="514.5" cy="130.7" r="2.05" fill="#b06d92" stroke="#fff" stroke-width="0.45"/>
<circle cx="506.0" cy="136.1" r="2.05" fill="#ca899f" stroke="#fff" stroke-width="0.45"/>
<circle cx="562.4" cy="126.3" r="2.05" fill="#945785" stroke="#fff" stroke-width="0.45"/>
<circle cx="532.1" cy="97.7" r="2.05" fill="#a2618c" stroke="#fff" stroke-width="0.45"/>
<circle cx="452.0" cy="190.9" r="2.05" fill="#673c6d" stroke="#fff" stroke-width="0.45"/>
<circle cx="457.7" cy="153.2" r="2.05" fill="#824b7c" stroke="#fff" stroke-width="0.45"/>
<circle cx="482.2" cy="139.5" r="2.05" fill="#d194a4" stroke="#fff" stroke-width="0.45"/>
<circle cx="511.0" cy="132.2" r="2.05" fill="#c6859d" stroke="#fff" stroke-width="0.45"/>
<circle cx="470.6" cy="162.6" r="2.05" fill="#a3628c" stroke="#fff" stroke-width="0.45"/>
<circle cx="467.8" cy="141.2" r="2.05" fill="#794678" stroke="#fff" stroke-width="0.45"/>
<circle cx="441.0" cy="168.3" r="2.05" fill="#955786" stroke="#fff" stroke-width="0.45"/>
<circle cx="483.7" cy="155.4" r="2.05" fill="#a5648d" stroke="#fff" stroke-width="0.45"/>
<circle cx="511.8" cy="103.3" r="2.05" fill="#8e5383" stroke="#fff" stroke-width="0.45"/>
<circle cx="496.3" cy="149.0" r="2.05" fill="#a5648d" stroke="#fff" stroke-width="0.45"/>
<circle cx="476.9" cy="140.9" r="2.05" fill="#d499a7" stroke="#fff" stroke-width="0.45"/>
<circle cx="503.6" cy="142.6" r="2.05" fill="#985987" stroke="#fff" stroke-width="0.45"/>
<circle cx="516.2" cy="103.1" r="2.05" fill="#955786" stroke="#fff" stroke-width="0.45"/>
<circle cx="509.5" cy="125.1" r="2.05" fill="#cb8ca0" stroke="#fff" stroke-width="0.45"/>
<circle cx="494.4" cy="117.3" r="2.05" fill="#a3628c" stroke="#fff" stroke-width="0.45"/>
<circle cx="506.0" cy="101.9" r="2.05" fill="#9a5b88" stroke="#fff" stroke-width="0.45"/>
<circle cx="486.9" cy="130.2" r="2.05" fill="#bb7797" stroke="#fff" stroke-width="0.45"/>
<circle cx="502.2" cy="131.6" r="2.05" fill="#d8a0aa" stroke="#fff" stroke-width="0.45"/>
<circle cx="490.8" cy="125.9" r="2.05" fill="#c7869e" stroke="#fff" stroke-width="0.45"/>
<circle cx="521.5" cy="104.1" r="2.05" fill="#945785" stroke="#fff" stroke-width="0.45"/>
<circle cx="472.7" cy="181.4" r="2.05" fill="#8c5181" stroke="#fff" stroke-width="0.45"/>
<circle cx="450.9" cy="231.7" r="2.05" fill="#402850" stroke="#fff" stroke-width="0.45"/>
<circle cx="448.2" cy="169.0" r="2.05" fill="#905483" stroke="#fff" stroke-width="0.45"/>
<circle cx="518.3" cy="128.2" r="2.05" fill="#a9678f" stroke="#fff" stroke-width="0.45"/>
<circle cx="508.1" cy="106.5" r="2.05" fill="#8e5383" stroke="#fff" stroke-width="0.45"/>
<circle cx="478.0" cy="136.3" r="2.05" fill="#c9889f" stroke="#fff" stroke-width="0.45"/>
<circle cx="465.0" cy="141.9" r="2.05" fill="#583463" stroke="#fff" stroke-width="0.45"/>
<circle cx="457.5" cy="167.5" r="2.05" fill="#b06d92" stroke="#fff" stroke-width="0.45"/>
<circle cx="475.7" cy="148.6" r="2.05" fill="#a5648d" stroke="#fff" stroke-width="0.45"/>
<circle cx="492.6" cy="141.1" r="2.05" fill="#d69ca8" stroke="#fff" stroke-width="0.45"/>
<circle cx="529.0" cy="132.8" r="2.05" fill="#613969" stroke="#fff" stroke-width="0.45"/>
<circle cx="499.6" cy="122.2" r="2.05" fill="#c2809b" stroke="#fff" stroke-width="0.45"/>
<circle cx="489.3" cy="121.4" r="2.05" fill="#c27f9a" stroke="#fff" stroke-width="0.45"/>
<circle cx="518.1" cy="140.8" r="2.05" fill="#613969" stroke="#fff" stroke-width="0.45"/>
<circle cx="518.3" cy="100.5" r="2.05" fill="#864e7e" stroke="#fff" stroke-width="0.45"/>
<circle cx="478.2" cy="157.4" r="2.05" fill="#814a7c" stroke="#fff" stroke-width="0.45"/>
<circle cx="467.3" cy="155.4" r="2.05" fill="#905483" stroke="#fff" stroke-width="0.45"/>
<circle cx="515.5" cy="127.5" r="2.05" fill="#b77495" stroke="#fff" stroke-width="0.45"/>
<circle cx="518.5" cy="108.8" r="2.05" fill="#ce8fa2" stroke="#fff" stroke-width="0.45"/>
<circle cx="518.3" cy="112.0" r="2.05" fill="#cf90a2" stroke="#fff" stroke-width="0.45"/>
<circle cx="496.0" cy="115.4" r="2.05" fill="#ab6990" stroke="#fff" stroke-width="0.45"/>
<circle cx="467.4" cy="135.8" r="2.05" fill="#8e5383" stroke="#fff" stroke-width="0.45"/>
<circle cx="499.9" cy="133.1" r="2.05" fill="#915584" stroke="#fff" stroke-width="0.45"/>
<circle cx="477.9" cy="155.7" r="2.05" fill="#925684" stroke="#fff" stroke-width="0.45"/>
<circle cx="547.3" cy="165.3" r="2.05" fill="#533260" stroke="#fff" stroke-width="0.45"/>
<circle cx="491.5" cy="122.8" r="2.05" fill="#ba7696" stroke="#fff" stroke-width="0.45"/>
<circle cx="492.6" cy="184.4" r="2.05" fill="#613969" stroke="#fff" stroke-width="0.45"/>
<circle cx="472.4" cy="174.7" r="2.05" fill="#814a7c" stroke="#fff" stroke-width="0.45"/>
<circle cx="450.9" cy="151.3" r="2.05" fill="#854d7e" stroke="#fff" stroke-width="0.45"/>
<circle cx="449.1" cy="151.0" r="2.05" fill="#a9678f" stroke="#fff" stroke-width="0.45"/>
<circle cx="461.1" cy="156.3" r="2.05" fill="#814a7c" stroke="#fff" stroke-width="0.45"/>
<circle cx="464.9" cy="187.7" r="2.05" fill="#563362" stroke="#fff" stroke-width="0.45"/>
<circle cx="465.1" cy="191.0" r="2.05" fill="#a9678f" stroke="#fff" stroke-width="0.45"/>
<circle cx="471.7" cy="146.9" r="2.05" fill="#a8668e" stroke="#fff" stroke-width="0.45"/>
<circle cx="484.1" cy="135.6" r="2.05" fill="#c3819c" stroke="#fff" stroke-width="0.45"/>
<circle cx="477.6" cy="152.5" r="2.05" fill="#995a88" stroke="#fff" stroke-width="0.45"/>
<circle cx="479.5" cy="161.6" r="2.05" fill="#a2618c" stroke="#fff" stroke-width="0.45"/>
<circle cx="505.6" cy="117.9" r="2.05" fill="#b57294" stroke="#fff" stroke-width="0.45"/>
<circle cx="473.2" cy="175.2" r="2.05" fill="#774576" stroke="#fff" stroke-width="0.45"/>
<circle cx="466.9" cy="143.7" r="2.05" fill="#945785" stroke="#fff" stroke-width="0.45"/>
<circle cx="490.3" cy="141.1" r="2.05" fill="#d295a5" stroke="#fff" stroke-width="0.45"/>
<circle cx="562.4" cy="104.8" r="2.05" fill="#945785" stroke="#fff" stroke-width="0.45"/>
<circle cx="449.4" cy="164.7" r="2.05" fill="#834c7d" stroke="#fff" stroke-width="0.45"/>
<circle cx="539.7" cy="107.0" r="2.05" fill="#b06d92" stroke="#fff" stroke-width="0.45"/>
<circle cx="503.0" cy="123.6" r="2.05" fill="#854d7e" stroke="#fff" stroke-width="0.45"/>
<circle cx="556.4" cy="114.0" r="2.05" fill="#9f5f8a" stroke="#fff" stroke-width="0.45"/>
<circle cx="494.2" cy="123.6" r="2.05" fill="#905483" stroke="#fff" stroke-width="0.45"/>
<circle cx="497.4" cy="118.0" r="2.05" fill="#a3628c" stroke="#fff" stroke-width="0.45"/>
<circle cx="468.5" cy="140.1" r="2.05" fill="#5b3665" stroke="#fff" stroke-width="0.45"/>
<circle cx="501.9" cy="134.8" r="2.05" fill="#d093a4" stroke="#fff" stroke-width="0.45"/>
<circle cx="514.5" cy="113.3" r="2.05" fill="#bb7797" stroke="#fff" stroke-width="0.45"/>
<circle cx="509.4" cy="103.1" r="2.05" fill="#ab6990" stroke="#fff" stroke-width="0.45"/>
<circle cx="484.1" cy="125.4" r="2.05" fill="#724274" stroke="#fff" stroke-width="0.45"/>
<circle cx="472.4" cy="146.6" r="2.05" fill="#8d5282" stroke="#fff" stroke-width="0.45"/>
<circle cx="447.4" cy="214.4" r="2.05" fill="#402850" stroke="#fff" stroke-width="0.45"/>
<circle cx="513.9" cy="110.9" r="2.05" fill="#ae6b91" stroke="#fff" stroke-width="0.45"/>
<circle cx="513.2" cy="120.2" r="2.05" fill="#d396a5" stroke="#fff" stroke-width="0.45"/>
<circle cx="467.8" cy="215.8" r="2.05" fill="#c17e9a" stroke="#fff" stroke-width="0.45"/>
<circle cx="476.1" cy="166.9" r="2.05" fill="#754475" stroke="#fff" stroke-width="0.45"/>
<circle cx="528.0" cy="111.2" r="2.05" fill="#b37093" stroke="#fff" stroke-width="0.45"/>
<circle cx="458.9" cy="147.1" r="2.05" fill="#462b55" stroke="#fff" stroke-width="0.45"/>
<circle cx="528.0" cy="137.1" r="2.05" fill="#945785" stroke="#fff" stroke-width="0.45"/>
<circle cx="514.1" cy="134.6" r="2.05" fill="#422952" stroke="#fff" stroke-width="0.45"/>
<circle cx="460.2" cy="179.4" r="2.05" fill="#673c6d" stroke="#fff" stroke-width="0.45"/>
<circle cx="470.1" cy="161.4" r="2.05" fill="#794678" stroke="#fff" stroke-width="0.45"/>
<circle cx="493.3" cy="135.4" r="2.05" fill="#ca899f" stroke="#fff" stroke-width="0.45"/>
<circle cx="493.4" cy="118.5" r="2.05" fill="#995a88" stroke="#fff" stroke-width="0.45"/>
<circle cx="502.6" cy="127.5" r="2.05" fill="#d093a4" stroke="#fff" stroke-width="0.45"/>
<circle cx="470.6" cy="153.4" r="2.05" fill="#a9678f" stroke="#fff" stroke-width="0.45"/>
<circle cx="478.9" cy="139.4" r="2.05" fill="#c3819c" stroke="#fff" stroke-width="0.45"/>
<circle cx="471.5" cy="183.9" r="2.05" fill="#683d6e" stroke="#fff" stroke-width="0.45"/>
<circle cx="521.4" cy="100.3" r="2.05" fill="#925684" stroke="#fff" stroke-width="0.45"/>
<circle cx="505.8" cy="125.7" r="2.05" fill="#c6859d" stroke="#fff" stroke-width="0.45"/>
<circle cx="479.1" cy="133.3" r="2.05" fill="#a5648d" stroke="#fff" stroke-width="0.45"/>
<circle cx="488.5" cy="133.5" r="2.05" fill="#cf91a3" stroke="#fff" stroke-width="0.45"/>
<circle cx="540.8" cy="146.5" r="2.05" fill="#533260" stroke="#fff" stroke-width="0.45"/>
<circle cx="492.0" cy="140.8" r="2.05" fill="#c3819c" stroke="#fff" stroke-width="0.45"/>
<circle cx="463.9" cy="144.6" r="2.05" fill="#945785" stroke="#fff" stroke-width="0.45"/>
<circle cx="465.0" cy="168.3" r="2.05" fill="#ac6a90" stroke="#fff" stroke-width="0.45"/>
<circle cx="494.0" cy="128.4" r="2.05" fill="#c5849d" stroke="#fff" stroke-width="0.45"/>
<circle cx="444.9" cy="164.1" r="2.05" fill="#794678" stroke="#fff" stroke-width="0.45"/>
<circle cx="508.6" cy="96.8" r="2.05" fill="#864e7e" stroke="#fff" stroke-width="0.45"/>
<circle cx="501.2" cy="167.6" r="2.05" fill="#a9678f" stroke="#fff" stroke-width="0.45"/>
<circle cx="528.0" cy="104.1" r="2.05" fill="#945785" stroke="#fff" stroke-width="0.45"/>
<circle cx="499.1" cy="144.5" r="2.05" fill="#c07d99" stroke="#fff" stroke-width="0.45"/>
<circle cx="454.6" cy="149.6" r="2.05" fill="#794678" stroke="#fff" stroke-width="0.45"/>
<circle cx="483.3" cy="124.7" r="2.05" fill="#6c3f70" stroke="#fff" stroke-width="0.45"/>
<circle cx="534.0" cy="133.4" r="2.05" fill="#a9678f" stroke="#fff" stroke-width="0.45"/>
<circle cx="511.8" cy="134.2" r="2.05" fill="#bf7c99" stroke="#fff" stroke-width="0.45"/>
<circle cx="484.2" cy="128.6" r="2.05" fill="#884f7f" stroke="#fff" stroke-width="0.45"/>
<circle cx="494.0" cy="138.0" r="2.05" fill="#d194a4" stroke="#fff" stroke-width="0.45"/>
<circle cx="520.2" cy="125.3" r="2.05" fill="#c2809b" stroke="#fff" stroke-width="0.45"/>
<circle cx="504.1" cy="132.5" r="2.05" fill="#d397a6" stroke="#fff" stroke-width="0.45"/>
<circle cx="471.9" cy="184.7" r="2.05" fill="#5f3868" stroke="#fff" stroke-width="0.45"/>
<circle cx="476.6" cy="181.7" r="2.05" fill="#955786" stroke="#fff" stroke-width="0.45"/>
<circle cx="494.9" cy="131.1" r="2.05" fill="#c7869e" stroke="#fff" stroke-width="0.45"/>
<circle cx="480.1" cy="133.2" r="2.05" fill="#be7b98" stroke="#fff" stroke-width="0.45"/>
<circle cx="440.8" cy="167.0" r="2.05" fill="#834c7d" stroke="#fff" stroke-width="0.45"/>
<circle cx="485.4" cy="110.5" r="2.05" fill="#c9889f" stroke="#fff" stroke-width="0.45"/>
<circle cx="459.1" cy="139.4" r="2.05" fill="#9f5f8a" stroke="#fff" stroke-width="0.45"/>
<circle cx="498.8" cy="167.6" r="2.05" fill="#a9678f" stroke="#fff" stroke-width="0.45"/>
<circle cx="516.2" cy="206.3" r="2.05" fill="#a9678f" stroke="#fff" stroke-width="0.45"/>
<circle cx="528.1" cy="106.5" r="2.05" fill="#c27f9a" stroke="#fff" stroke-width="0.45"/>
<circle cx="484.7" cy="139.0" r="2.05" fill="#cb8aa0" stroke="#fff" stroke-width="0.45"/>
<circle cx="475.5" cy="160.2" r="2.05" fill="#b57294" stroke="#fff" stroke-width="0.45"/>
<circle cx="487.5" cy="141.5" r="2.05" fill="#c3819c" stroke="#fff" stroke-width="0.45"/>
<circle cx="508.5" cy="165.5" r="2.05" fill="#533260" stroke="#fff" stroke-width="0.45"/>
<circle cx="495.6" cy="124.6" r="2.05" fill="#995a88" stroke="#fff" stroke-width="0.45"/>
<circle cx="506.5" cy="122.0" r="2.05" fill="#965886" stroke="#fff" stroke-width="0.45"/>
<circle cx="555.6" cy="122.0" r="2.05" fill="#9f5f8a" stroke="#fff" stroke-width="0.45"/>
<circle cx="507.7" cy="122.0" r="2.05" fill="#c27f9a" stroke="#fff" stroke-width="0.45"/>
<circle cx="479.1" cy="131.4" r="2.05" fill="#aa688f" stroke="#fff" stroke-width="0.45"/>
<circle cx="476.5" cy="128.6" r="2.05" fill="#6c3f70" stroke="#fff" stroke-width="0.45"/>
<circle cx="488.5" cy="137.5" r="2.05" fill="#d69ca8" stroke="#fff" stroke-width="0.45"/>
<circle cx="447.3" cy="187.9" r="2.05" fill="#814a7c" stroke="#fff" stroke-width="0.45"/>
<circle cx="490.1" cy="126.1" r="2.05" fill="#b26f93" stroke="#fff" stroke-width="0.45"/>
<circle cx="478.6" cy="165.1" r="2.05" fill="#a3628c" stroke="#fff" stroke-width="0.45"/>
<circle cx="471.6" cy="168.8" r="2.05" fill="#2d1e3e" stroke="#fff" stroke-width="0.45"/>
<circle cx="473.2" cy="174.2" r="2.05" fill="#754475" stroke="#fff" stroke-width="0.45"/>
<circle cx="496.9" cy="130.4" r="2.05" fill="#ca899f" stroke="#fff" stroke-width="0.45"/>
<circle cx="493.4" cy="135.0" r="2.05" fill="#d397a6" stroke="#fff" stroke-width="0.45"/>
<circle cx="439.6" cy="166.8" r="2.05" fill="#693d6f" stroke="#fff" stroke-width="0.45"/>
<circle cx="508.8" cy="138.7" r="2.05" fill="#ab6990" stroke="#fff" stroke-width="0.45"/>
<circle cx="500.5" cy="113.8" r="2.05" fill="#864e7e" stroke="#fff" stroke-width="0.45"/>
<circle cx="464.5" cy="151.8" r="2.05" fill="#a5648d" stroke="#fff" stroke-width="0.45"/>
<circle cx="460.1" cy="170.8" r="2.05" fill="#925684" stroke="#fff" stroke-width="0.45"/>
<circle cx="496.5" cy="169.6" r="2.05" fill="#613969" stroke="#fff" stroke-width="0.45"/>
<circle cx="527.1" cy="97.8" r="2.05" fill="#985987" stroke="#fff" stroke-width="0.45"/>
<circle cx="488.3" cy="125.9" r="2.05" fill="#b57294" stroke="#fff" stroke-width="0.45"/>
<circle cx="487.1" cy="143.2" r="2.05" fill="#8d5282" stroke="#fff" stroke-width="0.45"/>
<circle cx="490.1" cy="124.3" r="2.05" fill="#925684" stroke="#fff" stroke-width="0.45"/>
<circle cx="498.4" cy="148.1" r="2.05" fill="#9e5e8a" stroke="#fff" stroke-width="0.45"/>
<circle cx="553.4" cy="120.5" r="2.05" fill="#9f5f8a" stroke="#fff" stroke-width="0.45"/>
<circle cx="493.6" cy="119.7" r="2.05" fill="#955786" stroke="#fff" stroke-width="0.45"/>
<circle cx="514.0" cy="97.0" r="2.05" fill="#864e7e" stroke="#fff" stroke-width="0.45"/>
<circle cx="439.5" cy="170.3" r="2.05" fill="#754475" stroke="#fff" stroke-width="0.45"/>
<circle cx="496.0" cy="140.7" r="2.05" fill="#c2809b" stroke="#fff" stroke-width="0.45"/>
<circle cx="451.2" cy="165.7" r="2.05" fill="#8a5081" stroke="#fff" stroke-width="0.45"/>
<circle cx="508.1" cy="123.9" r="2.05" fill="#ca899f" stroke="#fff" stroke-width="0.45"/>
<circle cx="481.8" cy="137.3" r="2.05" fill="#d397a6" stroke="#fff" stroke-width="0.45"/>
<circle cx="458.9" cy="184.7" r="2.05" fill="#6f4172" stroke="#fff" stroke-width="0.45"/>
<circle cx="479.6" cy="150.4" r="2.05" fill="#965886" stroke="#fff" stroke-width="0.45"/>
<circle cx="523.5" cy="148.1" r="2.05" fill="#a9678f" stroke="#fff" stroke-width="0.45"/>
<circle cx="469.6" cy="144.4" r="2.05" fill="#864e7e" stroke="#fff" stroke-width="0.45"/>
<circle cx="505.5" cy="114.1" r="2.05" fill="#c27f9a" stroke="#fff" stroke-width="0.45"/>
<circle cx="509.6" cy="136.5" r="2.05" fill="#ae6b91" stroke="#fff" stroke-width="0.45"/>
<circle cx="479.0" cy="132.0" r="2.05" fill="#9e5e8a" stroke="#fff" stroke-width="0.45"/>
<circle cx="480.8" cy="112.0" r="2.05" fill="#c9889f" stroke="#fff" stroke-width="0.45"/>
<circle cx="464.6" cy="171.0" r="2.05" fill="#905483" stroke="#fff" stroke-width="0.45"/>
<circle cx="486.0" cy="150.2" r="2.05" fill="#d194a4" stroke="#fff" stroke-width="0.45"/>
<circle cx="470.3" cy="176.7" r="2.05" fill="#834c7d" stroke="#fff" stroke-width="0.45"/>
<circle cx="482.3" cy="144.4" r="2.05" fill="#c3819c" stroke="#fff" stroke-width="0.45"/>
<circle cx="533.4" cy="102.6" r="2.05" fill="#864e7e" stroke="#fff" stroke-width="0.45"/>
<circle cx="452.9" cy="150.0" r="2.05" fill="#794678" stroke="#fff" stroke-width="0.45"/>
<circle cx="486.5" cy="122.9" r="2.05" fill="#ab6990" stroke="#fff" stroke-width="0.45"/>
<circle cx="475.3" cy="144.0" r="2.05" fill="#a5648d" stroke="#fff" stroke-width="0.45"/>
<circle cx="524.2" cy="149.6" r="2.05" fill="#a9678f" stroke="#fff" stroke-width="0.45"/>
<circle cx="502.3" cy="135.3" r="2.05" fill="#bf7c99" stroke="#fff" stroke-width="0.45"/>
<circle cx="494.8" cy="121.2" r="2.05" fill="#b57294" stroke="#fff" stroke-width="0.45"/>
<circle cx="473.9" cy="134.4" r="2.05" fill="#a5648d" stroke="#fff" stroke-width="0.45"/>
<circle cx="450.1" cy="175.5" r="2.05" fill="#864e7e" stroke="#fff" stroke-width="0.45"/>
<circle cx="486.4" cy="129.5" r="2.05" fill="#c2809b" stroke="#fff" stroke-width="0.45"/>
<circle cx="474.7" cy="142.2" r="2.05" fill="#c27f9a" stroke="#fff" stroke-width="0.45"/>
<circle cx="510.3" cy="109.4" r="2.05" fill="#af6c91" stroke="#fff" stroke-width="0.45"/>
<circle cx="483.7" cy="160.1" r="2.05" fill="#824b7c" stroke="#fff" stroke-width="0.45"/>
<circle cx="439.4" cy="174.7" r="2.05" fill="#533260" stroke="#fff" stroke-width="0.45"/>
<circle cx="479.2" cy="137.6" r="2.05" fill="#d295a5" stroke="#fff" stroke-width="0.45"/>
<circle cx="503.0" cy="116.5" r="2.05" fill="#b37093" stroke="#fff" stroke-width="0.45"/>
<circle cx="496.3" cy="128.1" r="2.05" fill="#cb8aa0" stroke="#fff" stroke-width="0.45"/>
<circle cx="475.4" cy="141.6" r="2.05" fill="#bb7797" stroke="#fff" stroke-width="0.45"/>
<circle cx="537.8" cy="169.2" r="2.05" fill="#533260" stroke="#fff" stroke-width="0.45"/>
<circle cx="500.2" cy="136.7" r="2.05" fill="#905483" stroke="#fff" stroke-width="0.45"/>
<circle cx="518.3" cy="126.8" r="2.05" fill="#b37093" stroke="#fff" stroke-width="0.45"/>
<circle cx="488.6" cy="140.0" r="2.05" fill="#995a88" stroke="#fff" stroke-width="0.45"/>
<circle cx="517.7" cy="120.6" r="2.05" fill="#c7869e" stroke="#fff" stroke-width="0.45"/>
<circle cx="518.8" cy="147.3" r="2.05" fill="#c6859d" stroke="#fff" stroke-width="0.45"/>
<circle cx="473.7" cy="162.2" r="2.05" fill="#905483" stroke="#fff" stroke-width="0.45"/>
<circle cx="491.7" cy="124.5" r="2.05" fill="#b97596" stroke="#fff" stroke-width="0.45"/>
<circle cx="454.1" cy="166.5" r="2.05" fill="#e1b1b4" stroke="#fff" stroke-width="0.45"/>
<circle cx="457.7" cy="165.4" r="2.05" fill="#d69ca8" stroke="#fff" stroke-width="0.45"/>
<circle cx="459.9" cy="165.1" r="2.05" fill="#d8a0aa" stroke="#fff" stroke-width="0.45"/>
<circle cx="462.8" cy="166.0" r="2.05" fill="#cf90a2" stroke="#fff" stroke-width="0.45"/>
<circle cx="465.0" cy="166.5" r="2.05" fill="#ce8fa2" stroke="#fff" stroke-width="0.45"/>
<circle cx="468.5" cy="166.2" r="2.05" fill="#e0b0b3" stroke="#fff" stroke-width="0.45"/>
<circle cx="470.8" cy="166.5" r="2.05" fill="#e2b3b5" stroke="#fff" stroke-width="0.45"/>
<circle cx="473.2" cy="166.6" r="2.05" fill="#cc8da1" stroke="#fff" stroke-width="0.45"/>
<circle cx="475.7" cy="165.8" r="2.05" fill="#dba5ad" stroke="#fff" stroke-width="0.45"/>
<circle cx="477.9" cy="165.6" r="2.05" fill="#dca7ae" stroke="#fff" stroke-width="0.45"/>
<circle cx="481.5" cy="166.7" r="2.05" fill="#d59ba8" stroke="#fff" stroke-width="0.45"/>
<circle cx="484.6" cy="165.5" r="2.05" fill="#dca6ae" stroke="#fff" stroke-width="0.45"/>
<circle cx="487.8" cy="165.9" r="2.05" fill="#dca7ae" stroke="#fff" stroke-width="0.45"/>
<circle cx="457.6" cy="168.7" r="2.05" fill="#d59aa7" stroke="#fff" stroke-width="0.45"/>
<circle cx="459.8" cy="168.2" r="2.05" fill="#d59ba8" stroke="#fff" stroke-width="0.45"/>
<circle cx="463.8" cy="168.0" r="2.05" fill="#cc8da1" stroke="#fff" stroke-width="0.45"/>
<circle cx="466.4" cy="168.7" r="2.05" fill="#c9889f" stroke="#fff" stroke-width="0.45"/>
<circle cx="470.9" cy="168.7" r="2.05" fill="#d79ea9" stroke="#fff" stroke-width="0.45"/>
<circle cx="472.5" cy="167.6" r="2.05" fill="#d79ea9" stroke="#fff" stroke-width="0.45"/>
<circle cx="476.6" cy="169.4" r="2.05" fill="#c2809b" stroke="#fff" stroke-width="0.45"/>
<circle cx="479.8" cy="167.7" r="2.05" fill="#ca899f" stroke="#fff" stroke-width="0.45"/>
<circle cx="482.9" cy="168.5" r="2.05" fill="#c9889f" stroke="#fff" stroke-width="0.45"/>
<circle cx="485.6" cy="168.2" r="2.05" fill="#ce8fa2" stroke="#fff" stroke-width="0.45"/>
</g>
</svg>
</body></html>
